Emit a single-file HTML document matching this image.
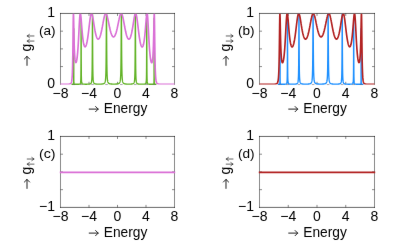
<!DOCTYPE html>
<html><head><meta charset="utf-8"><title>chart</title><style>html,body{margin:0;padding:0;background:#fff;}svg{display:block;}</style></head><body>
<svg width="400" height="247" viewBox="0 0 400 247" font-family="Liberation Sans, sans-serif" font-size="14" fill="#000">
<rect width="400" height="247" fill="#fff"/>
<filter id="bl" x="0" y="0" width="400" height="247" filterUnits="userSpaceOnUse" color-interpolation-filters="sRGB"><feConvolveMatrix order="3" kernelMatrix="0.00163 0.03713 0.00163 0.03713 0.84497 0.03713 0.00163 0.03713 0.00163" edgeMode="duplicate" preserveAlpha="false"/></filter>
<g filter="url(#bl)">
<path d="M60.5,84.3 V13.45 M174.5,13.45 V84.3" fill="none" stroke="#000" stroke-width="0.46" stroke-linecap="square"/>
<path d="M60.5,13.45 H174.5" fill="none" stroke="#000" stroke-width="0.6" stroke-linecap="square"/>
<path d="M89.00,84.3 v-2.5 M89.00,13.45 v2.5 M117.50,84.3 v-2.5 M117.50,13.45 v2.5 M146.00,84.3 v-2.5 M146.00,13.45 v2.5 M60.5,66.59 h2.5 M174.5,66.59 h-2.5 M60.5,48.88 h2.5 M174.5,48.88 h-2.5 M60.5,31.16 h2.5 M174.5,31.16 h-2.5" stroke="#000" stroke-width="0.46" fill="none"/>
<clipPath id="cpa0"><rect x="59.3" y="13.80" width="116.4" height="71.20"/></clipPath>
<path d="M71.47,84.30 L71.54,84.30 L71.62,84.30 L71.69,84.30 L71.76,84.30 L71.83,84.30 L71.90,84.30 L71.97,84.30 L72.04,84.30 L72.11,84.30 L72.19,84.30 L72.26,84.29 L72.33,84.29 L72.40,84.29 L72.47,84.29 L72.54,84.29 L72.61,84.29 L72.68,84.29 L72.75,84.28 L72.83,84.28 L72.90,84.28 L72.97,84.27 L73.04,84.26 L73.11,84.25 L73.18,84.23 L73.25,84.21 L73.33,84.17 L73.40,84.10 L73.47,83.97 L73.54,83.67 L73.61,82.75 L73.68,77.23 L73.75,28.62 L73.82,79.91 L73.89,82.93 L73.97,83.62 L74.04,83.89 L74.11,84.02 L74.18,84.09 L74.25,84.14 L74.32,84.17 L74.39,84.19 L74.47,84.21 L74.54,84.22 L74.61,84.23 L74.68,84.24 L74.75,84.24 L74.82,84.25 L74.89,84.25 L74.96,84.26 L75.03,84.26 L75.11,84.26 L75.18,84.26 L75.25,84.26 L75.32,84.27 L75.39,84.27 L75.46,84.27 L75.53,84.27 L75.61,84.27 L75.68,84.27 L75.75,84.27 L75.82,84.27 L75.89,84.27 L75.96,84.27 L76.03,84.27 L76.10,84.27 L76.17,84.27 L76.25,84.27 L76.32,84.27 L76.39,84.27 L76.46,84.27 L76.53,84.27 L76.60,84.27 L76.67,84.27 L76.75,84.27 L76.82,84.27 L76.89,84.27 L76.96,84.27 L77.03,84.27 L77.10,84.27 L77.17,84.27 L77.24,84.27 L77.31,84.27 L77.39,84.27 L77.46,84.27 L77.53,84.26 L77.60,84.26 L77.67,84.26 L77.74,84.26 L77.81,84.26 L77.88,84.26 L77.96,84.26 L78.03,84.25 L78.10,84.25 L78.17,84.25 L78.24,84.25 L78.31,84.25 L78.38,84.24 L78.45,84.24 L78.53,84.24 L78.60,84.23 L78.67,84.23 L78.74,84.22 L78.81,84.22 L78.88,84.21 L78.95,84.21 L79.03,84.20 L79.10,84.20 L79.17,84.19 L79.24,84.18 L79.31,84.17 L79.38,84.16 L79.45,84.14 L79.52,84.13 L79.59,84.11 L79.67,84.09 L79.74,84.07 L79.81,84.04 L79.88,84.01 L79.95,83.97 L80.02,83.92 L80.09,83.87 L80.16,83.79 L80.24,83.71 L80.31,83.59 L80.38,83.44 L80.45,83.25 L80.52,82.97 L80.59,82.58 L80.66,82.00 L80.73,81.08 L80.81,79.51 L80.88,76.56 L80.95,70.18 L81.02,54.16 L81.09,20.38 L81.16,27.34 L81.23,58.14 L81.31,71.31 L81.38,76.78 L81.45,79.44 L81.52,80.90 L81.59,81.79 L81.66,82.36 L81.73,82.76 L81.80,83.04 L81.88,83.25 L81.95,83.41 L82.02,83.53 L82.09,83.63 L82.16,83.71 L82.23,83.77 L82.30,83.82 L82.37,83.87 L82.44,83.91 L82.52,83.94 L82.59,83.97 L82.66,83.99 L82.73,84.02 L82.80,84.03 L82.87,84.05 L82.94,84.07 L83.02,84.08 L83.09,84.09 L83.16,84.10 L83.23,84.11 L83.30,84.12 L83.37,84.13 L83.44,84.13 L83.51,84.14 L83.59,84.15 L83.66,84.15 L83.73,84.16 L83.80,84.16 L83.87,84.17 L83.94,84.17 L84.01,84.17 L84.08,84.18 L84.16,84.18 L84.23,84.18 L84.30,84.18 L84.37,84.19 L84.44,84.19 L84.51,84.19 L84.58,84.19 L84.65,84.19 L84.72,84.20 L84.80,84.20 L84.87,84.20 L84.94,84.20 L85.01,84.20 L85.08,84.20 L85.15,84.20 L85.22,84.20 L85.30,84.20 L85.37,84.21 L85.44,84.21 L85.51,84.21 L85.58,84.21 L85.65,84.21 L85.72,84.21 L85.79,84.21 L85.87,84.21 L85.94,84.21 L86.01,84.21 L86.08,84.21 L86.15,84.21 L86.22,84.21 L86.29,84.21 L86.36,84.21 L86.44,84.20 L86.51,84.20 L86.58,84.20 L86.65,84.20 L86.72,84.20 L86.79,84.20 L86.86,84.20 L86.93,84.20 L87.01,84.20 L87.08,84.20 L87.15,84.19 L87.22,84.19 L87.29,84.19 L87.36,84.19 L87.43,84.19 L87.50,84.19 L87.58,84.18 L87.65,84.18 L87.72,84.18 L87.79,84.18 L87.86,84.18 L87.93,84.17 L88.00,84.17 L88.07,84.17 L88.14,84.16 L88.22,84.16 L88.29,84.16 L88.36,84.15 L88.43,84.15 L88.50,84.14 L88.57,84.14 L88.64,84.14 L88.72,84.13 L88.79,84.12 L88.86,84.12 L88.93,84.11 L89.00,84.11 L89.07,84.10 L89.14,84.09 L89.21,84.08 L89.28,84.07 L89.36,84.06 L89.43,84.05 L89.50,84.04 L89.57,84.03 L89.64,84.02 L89.71,84.01 L89.78,83.99 L89.86,83.98 L89.93,83.96 L90.00,83.94 L90.07,83.92 L90.14,83.90 L90.21,83.87 L90.28,83.84 L90.35,83.81 L90.42,83.78 L90.50,83.74 L90.57,83.70 L90.64,83.65 L90.71,83.60 L90.78,83.54 L90.85,83.47 L90.92,83.40 L91.00,83.31 L91.07,83.21 L91.14,83.09 L91.21,82.95 L91.28,82.78 L91.35,82.59 L91.42,82.35 L91.49,82.06 L91.56,81.71 L91.64,81.26 L91.71,80.69 L91.78,79.96 L91.85,78.98 L91.92,77.64 L91.99,75.76 L92.06,73.04 L92.14,68.93 L92.21,62.52 L92.28,52.35 L92.35,37.07 L92.42,19.76 L92.49,13.90 L92.56,26.31 L92.63,43.57 L92.71,56.57 L92.78,64.96 L92.85,70.30 L92.92,73.78 L92.99,76.15 L93.06,77.81 L93.13,79.01 L93.20,79.91 L93.28,80.60 L93.35,81.14 L93.42,81.56 L93.49,81.90 L93.56,82.19 L93.63,82.42 L93.70,82.61 L93.77,82.78 L93.84,82.92 L93.92,83.04 L93.99,83.15 L94.06,83.24 L94.13,83.32 L94.20,83.39 L94.27,83.45 L94.34,83.51 L94.41,83.56 L94.49,83.60 L94.56,83.64 L94.63,83.68 L94.70,83.71 L94.77,83.74 L94.84,83.77 L94.91,83.79 L94.98,83.82 L95.06,83.84 L95.13,83.86 L95.20,83.88 L95.27,83.89 L95.34,83.91 L95.41,83.92 L95.48,83.94 L95.56,83.95 L95.63,83.96 L95.70,83.97 L95.77,83.98 L95.84,83.99 L95.91,84.00 L95.98,84.01 L96.05,84.01 L96.12,84.02 L96.20,84.03 L96.27,84.04 L96.34,84.04 L96.41,84.05 L96.48,84.05 L96.55,84.06 L96.62,84.06 L96.69,84.07 L96.77,84.07 L96.84,84.07 L96.91,84.08 L96.98,84.08 L97.05,84.09 L97.12,84.09 L97.19,84.09 L97.27,84.09 L97.34,84.10 L97.41,84.10 L97.48,84.10 L97.55,84.10 L97.62,84.11 L97.69,84.11 L97.76,84.11 L97.84,84.11 L97.91,84.11 L97.98,84.11 L98.05,84.12 L98.12,84.12 L98.19,84.12 L98.26,84.12 L98.33,84.12 L98.41,84.12 L98.48,84.12 L98.55,84.12 L98.62,84.12 L98.69,84.12 L98.76,84.12 L98.83,84.12 L98.90,84.12 L98.97,84.12 L99.05,84.12 L99.12,84.12 L99.19,84.12 L99.26,84.12 L99.33,84.12 L99.40,84.12 L99.47,84.12 L99.55,84.12 L99.62,84.12 L99.69,84.12 L99.76,84.12 L99.83,84.12 L99.90,84.11 L99.97,84.11 L100.04,84.11 L100.12,84.11 L100.19,84.11 L100.26,84.11 L100.33,84.11 L100.40,84.10 L100.47,84.10 L100.54,84.10 L100.61,84.10 L100.69,84.09 L100.76,84.09 L100.83,84.09 L100.90,84.09 L100.97,84.08 L101.04,84.08 L101.11,84.08 L101.18,84.07 L101.25,84.07 L101.33,84.07 L101.40,84.06 L101.47,84.06 L101.54,84.05 L101.61,84.05 L101.68,84.04 L101.75,84.04 L101.82,84.03 L101.90,84.03 L101.97,84.02 L102.04,84.01 L102.11,84.01 L102.18,84.00 L102.25,83.99 L102.32,83.98 L102.39,83.97 L102.47,83.96 L102.54,83.95 L102.61,83.94 L102.68,83.93 L102.75,83.92 L102.82,83.91 L102.89,83.90 L102.97,83.88 L103.04,83.87 L103.11,83.85 L103.18,83.83 L103.25,83.82 L103.32,83.80 L103.39,83.78 L103.46,83.75 L103.53,83.73 L103.61,83.70 L103.68,83.68 L103.75,83.65 L103.82,83.61 L103.89,83.58 L103.96,83.54 L104.03,83.50 L104.11,83.45 L104.18,83.40 L104.25,83.35 L104.32,83.29 L104.39,83.22 L104.46,83.15 L104.53,83.07 L104.60,82.98 L104.68,82.87 L104.75,82.76 L104.82,82.63 L104.89,82.48 L104.96,82.32 L105.03,82.12 L105.10,81.90 L105.17,81.64 L105.25,81.34 L105.32,80.98 L105.39,80.56 L105.46,80.04 L105.53,79.42 L105.60,78.65 L105.67,77.69 L105.74,76.47 L105.81,74.91 L105.89,72.85 L105.96,70.09 L106.03,66.34 L106.10,61.15 L106.17,53.95 L106.24,44.16 L106.31,31.96 L106.39,19.83 L106.46,13.54 L106.53,17.44 L106.60,28.67 L106.67,41.15 L106.74,51.57 L106.81,59.35 L106.88,64.97 L106.96,69.04 L107.03,72.02 L107.10,74.24 L107.17,75.92 L107.24,77.23 L107.31,78.26 L107.38,79.08 L107.45,79.74 L107.53,80.29 L107.60,80.74 L107.67,81.12 L107.74,81.44 L107.81,81.72 L107.88,81.95 L107.95,82.16 L108.02,82.33 L108.09,82.49 L108.17,82.63 L108.24,82.75 L108.31,82.86 L108.38,82.95 L108.45,83.04 L108.52,83.12 L108.59,83.19 L108.66,83.25 L108.74,83.31 L108.81,83.36 L108.88,83.41 L108.95,83.46 L109.02,83.50 L109.09,83.54 L109.16,83.57 L109.23,83.60 L109.31,83.63 L109.38,83.66 L109.45,83.68 L109.52,83.71 L109.59,83.73 L109.66,83.75 L109.73,83.77 L109.81,83.79 L109.88,83.81 L109.95,83.82 L110.02,83.84 L110.09,83.85 L110.16,83.86 L110.23,83.88 L110.30,83.89 L110.38,83.90 L110.45,83.91 L110.52,83.92 L110.59,83.93 L110.66,83.94 L110.73,83.95 L110.80,83.95 L110.87,83.96 L110.94,83.97 L111.02,83.98 L111.09,83.98 L111.16,83.99 L111.23,83.99 L111.30,84.00 L111.37,84.00 L111.44,84.01 L111.52,84.01 L111.59,84.02 L111.66,84.02 L111.73,84.03 L111.80,84.03 L111.87,84.03 L111.94,84.04 L112.01,84.04 L112.09,84.04 L112.16,84.05 L112.23,84.05 L112.30,84.05 L112.37,84.05 L112.44,84.06 L112.51,84.06 L112.58,84.06 L112.66,84.06 L112.73,84.06 L112.80,84.07 L112.87,84.07 L112.94,84.07 L113.01,84.07 L113.08,84.07 L113.15,84.07 L113.22,84.07 L113.30,84.08 L113.37,84.08 L113.44,84.08 L113.51,84.08 L113.58,84.08 L113.65,84.08 L113.72,84.08 L113.80,84.08 L113.87,84.08 L113.94,84.08 L114.01,84.08 L114.08,84.08 L114.15,84.08 L114.22,84.08 L114.29,84.08 L114.37,84.08 L114.44,84.08 L114.51,84.07 L114.58,84.07 L114.65,84.07 L114.72,84.07 L114.79,84.07 L114.86,84.07 L114.94,84.07 L115.01,84.07 L115.08,84.06 L115.15,84.06 L115.22,84.06 L115.29,84.06 L115.36,84.06 L115.43,84.05 L115.50,84.05 L115.58,84.05 L115.65,84.05 L115.72,84.04 L115.79,84.04 L115.86,84.04 L115.93,84.03 L116.00,84.03 L116.07,84.03 L116.15,84.02 L116.22,84.02 L116.29,84.01 L116.36,84.01 L116.43,84.00 L116.50,84.00 L116.57,83.99 L116.64,83.99 L116.72,83.98 L116.79,83.98 L116.86,83.97 L116.93,83.96 L117.00,83.95 L117.07,83.95 L117.14,83.94 L117.22,83.93 L117.29,83.92 L117.36,83.91 L117.43,83.90 L117.50,83.89 L117.57,83.88 L117.64,83.86 L117.71,83.85 L117.78,83.84 L117.86,83.82 L117.93,83.81 L118.00,83.79 L118.07,83.77 L118.14,83.75 L118.21,83.73 L118.28,83.71 L118.36,83.69 L118.43,83.66 L118.50,83.63 L118.57,83.60 L118.64,83.57 L118.71,83.54 L118.78,83.50 L118.85,83.46 L118.92,83.42 L119.00,83.37 L119.07,83.32 L119.14,83.26 L119.21,83.20 L119.28,83.13 L119.35,83.06 L119.42,82.97 L119.50,82.88 L119.57,82.77 L119.64,82.66 L119.71,82.53 L119.78,82.38 L119.85,82.21 L119.92,82.01 L119.99,81.79 L120.06,81.53 L120.14,81.23 L120.21,80.87 L120.28,80.45 L120.35,79.94 L120.42,79.33 L120.49,78.58 L120.56,77.65 L120.63,76.48 L120.71,74.98 L120.78,73.03 L120.85,70.44 L120.92,66.95 L120.99,62.18 L121.06,55.58 L121.13,46.60 L121.20,35.13 L121.28,22.79 L121.35,14.37 L121.42,15.22 L121.49,24.74 L121.56,37.23 L121.63,48.38 L121.70,56.97 L121.78,63.24 L121.85,67.78 L121.92,71.09 L121.99,73.55 L122.06,75.40 L122.13,76.84 L122.20,77.95 L122.27,78.85 L122.34,79.56 L122.42,80.15 L122.49,80.64 L122.56,81.04 L122.63,81.38 L122.70,81.67 L122.77,81.92 L122.84,82.14 L122.91,82.32 L122.99,82.49 L123.06,82.63 L123.13,82.76 L123.20,82.87 L123.27,82.97 L123.34,83.06 L123.41,83.14 L123.48,83.21 L123.56,83.28 L123.63,83.34 L123.70,83.39 L123.77,83.44 L123.84,83.48 L123.91,83.53 L123.98,83.56 L124.06,83.60 L124.13,83.63 L124.20,83.66 L124.27,83.69 L124.34,83.72 L124.41,83.74 L124.48,83.76 L124.55,83.78 L124.62,83.80 L124.70,83.82 L124.77,83.84 L124.84,83.85 L124.91,83.87 L124.98,83.88 L125.05,83.90 L125.12,83.91 L125.20,83.92 L125.27,83.93 L125.34,83.94 L125.41,83.95 L125.48,83.96 L125.55,83.97 L125.62,83.98 L125.69,83.99 L125.77,83.99 L125.84,84.00 L125.91,84.01 L125.98,84.01 L126.05,84.02 L126.12,84.02 L126.19,84.03 L126.26,84.04 L126.34,84.04 L126.41,84.05 L126.48,84.05 L126.55,84.05 L126.62,84.06 L126.69,84.06 L126.76,84.07 L126.83,84.07 L126.91,84.07 L126.98,84.07 L127.05,84.08 L127.12,84.08 L127.19,84.08 L127.26,84.09 L127.33,84.09 L127.40,84.09 L127.48,84.09 L127.55,84.09 L127.62,84.10 L127.69,84.10 L127.76,84.10 L127.83,84.10 L127.90,84.10 L127.97,84.10 L128.05,84.10 L128.12,84.11 L128.19,84.11 L128.26,84.11 L128.33,84.11 L128.40,84.11 L128.47,84.11 L128.54,84.11 L128.62,84.11 L128.69,84.11 L128.76,84.11 L128.83,84.11 L128.90,84.11 L128.97,84.11 L129.04,84.11 L129.11,84.11 L129.19,84.11 L129.26,84.11 L129.33,84.11 L129.40,84.11 L129.47,84.11 L129.54,84.11 L129.61,84.10 L129.68,84.10 L129.75,84.10 L129.83,84.10 L129.90,84.10 L129.97,84.10 L130.04,84.10 L130.11,84.09 L130.18,84.09 L130.25,84.09 L130.32,84.09 L130.40,84.09 L130.47,84.08 L130.54,84.08 L130.61,84.08 L130.68,84.07 L130.75,84.07 L130.82,84.07 L130.90,84.06 L130.97,84.06 L131.04,84.06 L131.11,84.05 L131.18,84.05 L131.25,84.04 L131.32,84.04 L131.39,84.03 L131.47,84.02 L131.54,84.02 L131.61,84.01 L131.68,84.00 L131.75,84.00 L131.82,83.99 L131.89,83.98 L131.96,83.97 L132.04,83.96 L132.11,83.95 L132.18,83.94 L132.25,83.92 L132.32,83.91 L132.39,83.90 L132.46,83.88 L132.53,83.87 L132.61,83.85 L132.68,83.83 L132.75,83.81 L132.82,83.79 L132.89,83.76 L132.96,83.74 L133.03,83.71 L133.10,83.68 L133.18,83.64 L133.25,83.60 L133.32,83.56 L133.39,83.52 L133.46,83.47 L133.53,83.41 L133.60,83.34 L133.67,83.27 L133.75,83.19 L133.82,83.10 L133.89,82.99 L133.96,82.87 L134.03,82.73 L134.10,82.56 L134.17,82.37 L134.24,82.14 L134.31,81.87 L134.39,81.54 L134.46,81.13 L134.53,80.62 L134.60,79.98 L134.67,79.16 L134.74,78.07 L134.81,76.60 L134.88,74.57 L134.96,71.66 L135.03,67.35 L135.10,60.78 L135.17,50.68 L135.24,36.04 L135.31,19.82 L135.38,13.68 L135.45,24.52 L135.53,41.29 L135.60,54.70 L135.67,63.62 L135.74,69.37 L135.81,73.15 L135.88,75.72 L135.95,77.53 L136.02,78.83 L136.10,79.80 L136.17,80.54 L136.24,81.11 L136.31,81.56 L136.38,81.93 L136.45,82.22 L136.52,82.47 L136.59,82.67 L136.67,82.84 L136.74,82.99 L136.81,83.12 L136.88,83.22 L136.95,83.32 L137.02,83.40 L137.09,83.47 L137.16,83.53 L137.24,83.59 L137.31,83.64 L137.38,83.69 L137.45,83.73 L137.52,83.76 L137.59,83.80 L137.66,83.83 L137.74,83.85 L137.81,83.88 L137.88,83.90 L137.95,83.92 L138.02,83.94 L138.09,83.96 L138.16,83.97 L138.23,83.99 L138.31,84.00 L138.38,84.01 L138.45,84.03 L138.52,84.04 L138.59,84.05 L138.66,84.06 L138.73,84.07 L138.80,84.07 L138.88,84.08 L138.95,84.09 L139.02,84.10 L139.09,84.10 L139.16,84.11 L139.23,84.11 L139.30,84.12 L139.37,84.12 L139.44,84.13 L139.52,84.13 L139.59,84.14 L139.66,84.14 L139.73,84.14 L139.80,84.15 L139.87,84.15 L139.94,84.15 L140.01,84.16 L140.09,84.16 L140.16,84.16 L140.23,84.17 L140.30,84.17 L140.37,84.17 L140.44,84.17 L140.51,84.17 L140.59,84.18 L140.66,84.18 L140.73,84.18 L140.80,84.18 L140.87,84.18 L140.94,84.18 L141.01,84.18 L141.08,84.19 L141.16,84.19 L141.23,84.19 L141.30,84.19 L141.37,84.19 L141.44,84.19 L141.51,84.19 L141.58,84.19 L141.65,84.19 L141.73,84.19 L141.80,84.19 L141.87,84.19 L141.94,84.19 L142.01,84.19 L142.08,84.19 L142.15,84.19 L142.22,84.19 L142.30,84.19 L142.37,84.19 L142.44,84.19 L142.51,84.19 L142.58,84.19 L142.65,84.19 L142.72,84.19 L142.79,84.18 L142.87,84.18 L142.94,84.18 L143.01,84.18 L143.08,84.18 L143.15,84.18 L143.22,84.17 L143.29,84.17 L143.36,84.17 L143.44,84.17 L143.51,84.17 L143.58,84.16 L143.65,84.16 L143.72,84.16 L143.79,84.15 L143.86,84.15 L143.93,84.14 L144.00,84.14 L144.08,84.13 L144.15,84.13 L144.22,84.12 L144.29,84.11 L144.36,84.11 L144.43,84.10 L144.50,84.09 L144.57,84.08 L144.65,84.07 L144.72,84.06 L144.79,84.04 L144.86,84.03 L144.93,84.01 L145.00,84.00 L145.07,83.97 L145.15,83.95 L145.22,83.92 L145.29,83.89 L145.36,83.86 L145.43,83.82 L145.50,83.77 L145.57,83.71 L145.64,83.64 L145.72,83.56 L145.79,83.46 L145.86,83.33 L145.93,83.18 L146.00,82.97 L146.07,82.70 L146.14,82.34 L146.21,81.82 L146.29,81.06 L146.36,79.89 L146.43,77.93 L146.50,74.35 L146.57,66.95 L146.64,49.93 L146.71,19.16 L146.78,25.23 L146.86,55.18 L146.93,69.61 L147.00,75.87 L147.07,78.93 L147.14,80.62 L147.21,81.64 L147.28,82.29 L147.35,82.73 L147.43,83.05 L147.50,83.28 L147.57,83.45 L147.64,83.58 L147.71,83.69 L147.78,83.77 L147.85,83.84 L147.92,83.90 L148.00,83.94 L148.07,83.98 L148.14,84.01 L148.21,84.04 L148.28,84.07 L148.35,84.09 L148.42,84.11 L148.49,84.12 L148.56,84.14 L148.64,84.15 L148.71,84.16 L148.78,84.17 L148.85,84.18 L148.92,84.19 L148.99,84.19 L149.06,84.20 L149.13,84.20 L149.21,84.21 L149.28,84.21 L149.35,84.22 L149.42,84.22 L149.49,84.23 L149.56,84.23 L149.63,84.23 L149.70,84.24 L149.78,84.24 L149.85,84.24 L149.92,84.24 L149.99,84.25 L150.06,84.25 L150.13,84.25 L150.20,84.25 L150.27,84.25 L150.35,84.25 L150.42,84.25 L150.49,84.26 L150.56,84.26 L150.63,84.26 L150.70,84.26 L150.77,84.26 L150.84,84.26 L150.92,84.26 L150.99,84.26 L151.06,84.26 L151.13,84.26 L151.20,84.26 L151.27,84.26 L151.34,84.26 L151.41,84.26 L151.49,84.26 L151.56,84.26 L151.63,84.26 L151.70,84.26 L151.77,84.26 L151.84,84.26 L151.91,84.26 L151.99,84.26 L152.06,84.26 L152.13,84.26 L152.20,84.26 L152.27,84.26 L152.34,84.26 L152.41,84.26 L152.48,84.25 L152.56,84.25 L152.63,84.25 L152.70,84.25 L152.77,84.25 L152.84,84.24 L152.91,84.24 L152.98,84.23 L153.05,84.23 L153.12,84.22 L153.20,84.21 L153.27,84.20 L153.34,84.19 L153.41,84.17 L153.48,84.15 L153.55,84.12 L153.62,84.07 L153.69,84.01 L153.77,83.90 L153.84,83.71 L153.91,83.32 L153.98,82.28 L154.05,77.67 L154.12,18.26 L154.19,75.74 L154.26,82.25 L154.34,83.44 L154.41,83.84 L154.48,84.02 L154.55,84.11 L154.62,84.17 L154.69,84.20 L154.76,84.23 L154.84,84.24 L154.91,84.26 L154.98,84.26 L155.05,84.27 L155.12,84.28 L155.19,84.28 L155.26,84.28 L155.33,84.29 L155.41,84.29 L155.48,84.29 L155.55,84.29 L155.62,84.29 L155.69,84.29 L155.76,84.29 L155.83,84.29 L155.90,84.30 L155.98,84.30 L156.05,84.30 L156.12,84.30 L156.19,84.30 L156.26,84.30 L156.33,84.30 L156.40,84.30" fill="none" stroke="#62B327" stroke-width="1.35" stroke-linejoin="round" stroke-linecap="butt" clip-path="url(#cpa0)"/>
<clipPath id="cpa1"><rect x="59.3" y="13.80" width="116.4" height="70.80"/></clipPath>
<path d="M60.50,84.30 L60.57,84.30 L60.64,84.30 L60.71,84.30 L60.79,84.30 L60.86,84.30 L60.93,84.30 L61.00,84.30 L61.07,84.30 L61.14,84.30 L61.21,84.30 L61.28,84.30 L61.36,84.30 L61.43,84.30 L61.50,84.30 L61.57,84.30 L61.64,84.30 L61.71,84.30 L61.78,84.30 L61.85,84.30 L61.93,84.30 L62.00,84.30 L62.07,84.30 L62.14,84.30 L62.21,84.30 L62.28,84.30 L62.35,84.30 L62.42,84.30 L62.50,84.30 L62.57,84.30 L62.64,84.30 L62.71,84.30 L62.78,84.30 L62.85,84.30 L62.92,84.30 L62.99,84.30 L63.07,84.30 L63.14,84.30 L63.21,84.30 L63.28,84.30 L63.35,84.30 L63.42,84.30 L63.49,84.30 L63.56,84.30 L63.64,84.30 L63.71,84.30 L63.78,84.30 L63.85,84.30 L63.92,84.30 L63.99,84.30 L64.06,84.30 L64.13,84.30 L64.20,84.30 L64.28,84.30 L64.35,84.30 L64.42,84.30 L64.49,84.30 L64.56,84.30 L64.63,84.30 L64.70,84.30 L64.77,84.30 L64.85,84.30 L64.92,84.30 L64.99,84.30 L65.06,84.30 L65.13,84.30 L65.20,84.30 L65.27,84.30 L65.34,84.30 L65.42,84.29 L65.49,84.29 L65.56,84.29 L65.63,84.29 L65.70,84.29 L65.77,84.29 L65.84,84.29 L65.91,84.29 L65.99,84.29 L66.06,84.29 L66.13,84.29 L66.20,84.29 L66.27,84.29 L66.34,84.29 L66.41,84.29 L66.48,84.29 L66.56,84.29 L66.63,84.29 L66.70,84.29 L66.77,84.28 L66.84,84.28 L66.91,84.28 L66.98,84.28 L67.06,84.28 L67.13,84.28 L67.20,84.28 L67.27,84.28 L67.34,84.27 L67.41,84.27 L67.48,84.27 L67.55,84.27 L67.62,84.27 L67.70,84.27 L67.77,84.26 L67.84,84.26 L67.91,84.26 L67.98,84.26 L68.05,84.25 L68.12,84.25 L68.19,84.25 L68.27,84.24 L68.34,84.24 L68.41,84.23 L68.48,84.23 L68.55,84.22 L68.62,84.22 L68.69,84.21 L68.77,84.21 L68.84,84.20 L68.91,84.19 L68.98,84.19 L69.05,84.18 L69.12,84.17 L69.19,84.16 L69.26,84.15 L69.34,84.14 L69.41,84.12 L69.48,84.11 L69.55,84.10 L69.62,84.08 L69.69,84.06 L69.76,84.04 L69.83,84.02 L69.91,84.00 L69.98,83.97 L70.05,83.95 L70.12,83.92 L70.19,83.88 L70.26,83.85 L70.33,83.81 L70.40,83.76 L70.48,83.72 L70.55,83.66 L70.62,83.60 L70.69,83.54 L70.76,83.46 L70.83,83.38 L70.90,83.29 L70.97,83.19 L71.05,83.07 L71.12,82.94 L71.19,82.80 L71.26,82.64 L71.33,82.45 L71.40,82.24 L71.47,82.01 L71.54,81.73 L71.62,81.43 L71.69,81.07 L71.76,80.66 L71.83,80.19 L71.90,79.65 L71.97,79.01 L72.04,78.28 L72.11,77.41 L72.19,76.40 L72.26,75.21 L72.33,73.80 L72.40,72.13 L72.47,70.15 L72.54,67.81 L72.61,65.03 L72.68,61.74 L72.75,57.89 L72.83,53.41 L72.90,48.31 L72.97,42.64 L73.04,36.57 L73.11,30.40 L73.18,24.56 L73.25,19.56 L73.33,15.89 L73.40,13.85 L73.47,13.53 L73.54,14.74 L73.61,17.14 L73.68,20.34 L73.75,23.96 L73.82,27.71 L73.89,31.39 L73.97,34.88 L74.04,38.11 L74.11,41.04 L74.18,43.69 L74.25,46.06 L74.32,48.17 L74.39,50.05 L74.47,51.71 L74.54,53.19 L74.61,54.50 L74.68,55.66 L74.75,56.68 L74.82,57.59 L74.89,58.39 L74.96,59.09 L75.03,59.71 L75.11,60.26 L75.18,60.73 L75.25,61.13 L75.32,61.48 L75.39,61.78 L75.46,62.02 L75.53,62.22 L75.61,62.38 L75.68,62.49 L75.75,62.57 L75.82,62.61 L75.89,62.61 L75.96,62.58 L76.03,62.51 L76.10,62.42 L76.17,62.29 L76.25,62.13 L76.32,61.95 L76.39,61.73 L76.46,61.48 L76.53,61.20 L76.60,60.89 L76.67,60.55 L76.75,60.18 L76.82,59.78 L76.89,59.35 L76.96,58.88 L77.03,58.38 L77.10,57.85 L77.17,57.29 L77.24,56.69 L77.31,56.05 L77.39,55.38 L77.46,54.67 L77.53,53.92 L77.60,53.13 L77.67,52.30 L77.74,51.44 L77.81,50.53 L77.88,49.58 L77.96,48.59 L78.03,47.56 L78.10,46.49 L78.17,45.37 L78.24,44.22 L78.31,43.03 L78.38,41.80 L78.45,40.53 L78.53,39.23 L78.60,37.90 L78.67,36.55 L78.74,35.17 L78.81,33.78 L78.88,32.37 L78.95,30.96 L79.03,29.55 L79.10,28.14 L79.17,26.75 L79.24,25.39 L79.31,24.06 L79.38,22.77 L79.45,21.53 L79.52,20.36 L79.59,19.25 L79.67,18.22 L79.74,17.28 L79.81,16.43 L79.88,15.68 L79.95,15.03 L80.02,14.49 L80.09,14.06 L80.16,13.75 L80.24,13.55 L80.31,13.46 L80.38,13.47 L80.45,13.60 L80.52,13.82 L80.59,14.14 L80.66,14.55 L80.73,15.04 L80.81,15.61 L80.88,16.24 L80.95,16.94 L81.02,17.68 L81.09,18.47 L81.16,19.30 L81.23,20.16 L81.31,21.04 L81.38,21.94 L81.45,22.86 L81.52,23.78 L81.59,24.70 L81.66,25.62 L81.73,26.53 L81.80,27.44 L81.88,28.33 L81.95,29.21 L82.02,30.08 L82.09,30.92 L82.16,31.75 L82.23,32.55 L82.30,33.33 L82.37,34.09 L82.44,34.83 L82.52,35.54 L82.59,36.22 L82.66,36.89 L82.73,37.52 L82.80,38.14 L82.87,38.72 L82.94,39.29 L83.02,39.83 L83.09,40.35 L83.16,40.84 L83.23,41.31 L83.30,41.76 L83.37,42.19 L83.44,42.59 L83.51,42.98 L83.59,43.34 L83.66,43.68 L83.73,44.00 L83.80,44.31 L83.87,44.59 L83.94,44.86 L84.01,45.10 L84.08,45.33 L84.16,45.54 L84.23,45.74 L84.30,45.91 L84.37,46.07 L84.44,46.22 L84.51,46.35 L84.58,46.46 L84.65,46.56 L84.72,46.64 L84.80,46.70 L84.87,46.75 L84.94,46.79 L85.01,46.81 L85.08,46.82 L85.15,46.82 L85.22,46.80 L85.30,46.76 L85.37,46.71 L85.44,46.65 L85.51,46.58 L85.58,46.49 L85.65,46.39 L85.72,46.27 L85.79,46.15 L85.87,46.01 L85.94,45.85 L86.01,45.69 L86.08,45.51 L86.15,45.31 L86.22,45.11 L86.29,44.89 L86.36,44.66 L86.44,44.41 L86.51,44.16 L86.58,43.89 L86.65,43.60 L86.72,43.31 L86.79,43.00 L86.86,42.68 L86.93,42.35 L87.01,42.00 L87.08,41.64 L87.15,41.27 L87.22,40.89 L87.29,40.49 L87.36,40.09 L87.43,39.67 L87.50,39.24 L87.58,38.79 L87.65,38.34 L87.72,37.87 L87.79,37.39 L87.86,36.90 L87.93,36.40 L88.00,35.89 L88.07,35.37 L88.14,34.84 L88.22,34.30 L88.29,33.75 L88.36,33.20 L88.43,32.63 L88.50,32.06 L88.57,31.48 L88.64,30.89 L88.72,30.30 L88.79,29.70 L88.86,29.10 L88.93,28.50 L89.00,27.89 L89.07,27.28 L89.14,26.67 L89.21,26.06 L89.28,25.45 L89.36,24.85 L89.43,24.25 L89.50,23.65 L89.57,23.06 L89.64,22.47 L89.71,21.89 L89.78,21.32 L89.86,20.77 L89.93,20.22 L90.00,19.69 L90.07,19.17 L90.14,18.67 L90.21,18.18 L90.28,17.71 L90.35,17.27 L90.42,16.84 L90.50,16.43 L90.57,16.05 L90.64,15.69 L90.71,15.35 L90.78,15.04 L90.85,14.76 L90.92,14.50 L91.00,14.27 L91.07,14.07 L91.14,13.89 L91.21,13.75 L91.28,13.63 L91.35,13.54 L91.42,13.49 L91.49,13.45 L91.56,13.45 L91.64,13.48 L91.71,13.53 L91.78,13.61 L91.85,13.72 L91.92,13.86 L91.99,14.02 L92.06,14.20 L92.14,14.41 L92.21,14.64 L92.28,14.89 L92.35,15.16 L92.42,15.46 L92.49,15.77 L92.56,16.10 L92.63,16.44 L92.71,16.80 L92.78,17.17 L92.85,17.56 L92.92,17.96 L92.99,18.37 L93.06,18.79 L93.13,19.22 L93.20,19.66 L93.28,20.10 L93.35,20.55 L93.42,21.00 L93.49,21.45 L93.56,21.91 L93.63,22.37 L93.70,22.84 L93.77,23.30 L93.84,23.76 L93.92,24.22 L93.99,24.68 L94.06,25.14 L94.13,25.59 L94.20,26.04 L94.27,26.49 L94.34,26.93 L94.41,27.36 L94.49,27.79 L94.56,28.22 L94.63,28.64 L94.70,29.05 L94.77,29.46 L94.84,29.86 L94.91,30.25 L94.98,30.63 L95.06,31.01 L95.13,31.38 L95.20,31.74 L95.27,32.09 L95.34,32.43 L95.41,32.77 L95.48,33.09 L95.56,33.41 L95.63,33.72 L95.70,34.02 L95.77,34.32 L95.84,34.60 L95.91,34.87 L95.98,35.14 L96.05,35.40 L96.12,35.64 L96.20,35.88 L96.27,36.11 L96.34,36.34 L96.41,36.55 L96.48,36.75 L96.55,36.95 L96.62,37.13 L96.69,37.31 L96.77,37.48 L96.84,37.64 L96.91,37.79 L96.98,37.94 L97.05,38.07 L97.12,38.20 L97.19,38.32 L97.27,38.43 L97.34,38.53 L97.41,38.62 L97.48,38.71 L97.55,38.78 L97.62,38.85 L97.69,38.91 L97.76,38.96 L97.84,39.01 L97.91,39.04 L97.98,39.07 L98.05,39.09 L98.12,39.10 L98.19,39.11 L98.26,39.10 L98.33,39.09 L98.41,39.07 L98.48,39.05 L98.55,39.01 L98.62,38.97 L98.69,38.92 L98.76,38.86 L98.83,38.79 L98.90,38.72 L98.97,38.64 L99.05,38.55 L99.12,38.45 L99.19,38.35 L99.26,38.24 L99.33,38.12 L99.40,37.99 L99.47,37.86 L99.55,37.71 L99.62,37.57 L99.69,37.41 L99.76,37.24 L99.83,37.07 L99.90,36.89 L99.97,36.71 L100.04,36.52 L100.12,36.32 L100.19,36.11 L100.26,35.89 L100.33,35.67 L100.40,35.44 L100.47,35.21 L100.54,34.96 L100.61,34.71 L100.69,34.46 L100.76,34.19 L100.83,33.92 L100.90,33.65 L100.97,33.36 L101.04,33.07 L101.11,32.78 L101.18,32.47 L101.25,32.17 L101.33,31.85 L101.40,31.53 L101.47,31.21 L101.54,30.87 L101.61,30.54 L101.68,30.20 L101.75,29.85 L101.82,29.50 L101.90,29.14 L101.97,28.78 L102.04,28.42 L102.11,28.05 L102.18,27.68 L102.25,27.30 L102.32,26.92 L102.39,26.54 L102.47,26.16 L102.54,25.77 L102.61,25.39 L102.68,25.00 L102.75,24.61 L102.82,24.22 L102.89,23.83 L102.97,23.44 L103.04,23.05 L103.11,22.66 L103.18,22.27 L103.25,21.88 L103.32,21.50 L103.39,21.12 L103.46,20.75 L103.53,20.37 L103.61,20.00 L103.68,19.64 L103.75,19.28 L103.82,18.93 L103.89,18.59 L103.96,18.25 L104.03,17.92 L104.11,17.60 L104.18,17.28 L104.25,16.98 L104.32,16.68 L104.39,16.40 L104.46,16.12 L104.53,15.86 L104.60,15.61 L104.68,15.37 L104.75,15.14 L104.82,14.93 L104.89,14.73 L104.96,14.54 L105.03,14.36 L105.10,14.21 L105.17,14.06 L105.25,13.93 L105.32,13.82 L105.39,13.72 L105.46,13.63 L105.53,13.57 L105.60,13.51 L105.67,13.48 L105.74,13.46 L105.81,13.45 L105.89,13.46 L105.96,13.49 L106.03,13.53 L106.10,13.59 L106.17,13.66 L106.24,13.75 L106.31,13.85 L106.39,13.96 L106.46,14.10 L106.53,14.24 L106.60,14.40 L106.67,14.57 L106.74,14.76 L106.81,14.95 L106.88,15.16 L106.96,15.38 L107.03,15.62 L107.10,15.86 L107.17,16.11 L107.24,16.38 L107.31,16.65 L107.38,16.93 L107.45,17.22 L107.53,17.52 L107.60,17.82 L107.67,18.13 L107.74,18.45 L107.81,18.77 L107.88,19.10 L107.95,19.43 L108.02,19.77 L108.09,20.11 L108.17,20.46 L108.24,20.80 L108.31,21.15 L108.38,21.50 L108.45,21.86 L108.52,22.21 L108.59,22.57 L108.66,22.92 L108.74,23.28 L108.81,23.63 L108.88,23.99 L108.95,24.34 L109.02,24.69 L109.09,25.04 L109.16,25.39 L109.23,25.73 L109.31,26.08 L109.38,26.42 L109.45,26.75 L109.52,27.09 L109.59,27.42 L109.66,27.74 L109.73,28.06 L109.81,28.38 L109.88,28.69 L109.95,29.00 L110.02,29.31 L110.09,29.61 L110.16,29.90 L110.23,30.19 L110.30,30.47 L110.38,30.75 L110.45,31.02 L110.52,31.29 L110.59,31.55 L110.66,31.81 L110.73,32.06 L110.80,32.30 L110.87,32.54 L110.94,32.77 L111.02,33.00 L111.09,33.22 L111.16,33.43 L111.23,33.64 L111.30,33.84 L111.37,34.04 L111.44,34.23 L111.52,34.41 L111.59,34.59 L111.66,34.76 L111.73,34.92 L111.80,35.08 L111.87,35.23 L111.94,35.37 L112.01,35.51 L112.09,35.64 L112.16,35.77 L112.23,35.88 L112.30,36.00 L112.37,36.10 L112.44,36.20 L112.51,36.29 L112.58,36.38 L112.66,36.46 L112.73,36.53 L112.80,36.60 L112.87,36.66 L112.94,36.72 L113.01,36.76 L113.08,36.80 L113.15,36.84 L113.22,36.87 L113.30,36.89 L113.37,36.90 L113.44,36.91 L113.51,36.91 L113.58,36.91 L113.65,36.90 L113.72,36.88 L113.80,36.86 L113.87,36.83 L113.94,36.79 L114.01,36.75 L114.08,36.70 L114.15,36.64 L114.22,36.58 L114.29,36.51 L114.37,36.44 L114.44,36.36 L114.51,36.27 L114.58,36.17 L114.65,36.07 L114.72,35.96 L114.79,35.85 L114.86,35.73 L114.94,35.60 L115.01,35.47 L115.08,35.33 L115.15,35.18 L115.22,35.03 L115.29,34.87 L115.36,34.71 L115.43,34.53 L115.50,34.36 L115.58,34.17 L115.65,33.98 L115.72,33.78 L115.79,33.58 L115.86,33.37 L115.93,33.16 L116.00,32.94 L116.07,32.71 L116.15,32.47 L116.22,32.23 L116.29,31.99 L116.36,31.74 L116.43,31.48 L116.50,31.22 L116.57,30.95 L116.64,30.67 L116.72,30.39 L116.79,30.11 L116.86,29.82 L116.93,29.52 L117.00,29.22 L117.07,28.92 L117.14,28.61 L117.22,28.30 L117.29,27.98 L117.36,27.66 L117.43,27.33 L117.50,27.00 L117.57,26.67 L117.64,26.33 L117.71,25.99 L117.78,25.65 L117.86,25.30 L117.93,24.95 L118.00,24.60 L118.07,24.25 L118.14,23.90 L118.21,23.55 L118.28,23.19 L118.36,22.84 L118.43,22.48 L118.50,22.13 L118.57,21.78 L118.64,21.42 L118.71,21.07 L118.78,20.73 L118.85,20.38 L118.92,20.04 L119.00,19.70 L119.07,19.36 L119.14,19.03 L119.21,18.70 L119.28,18.38 L119.35,18.07 L119.42,17.76 L119.50,17.45 L119.57,17.16 L119.64,16.87 L119.71,16.59 L119.78,16.32 L119.85,16.06 L119.92,15.81 L119.99,15.57 L120.06,15.34 L120.14,15.12 L120.21,14.92 L120.28,14.72 L120.35,14.54 L120.42,14.37 L120.49,14.22 L120.56,14.07 L120.63,13.94 L120.71,13.83 L120.78,13.73 L120.85,13.65 L120.92,13.58 L120.99,13.52 L121.06,13.48 L121.13,13.46 L121.20,13.45 L121.28,13.46 L121.35,13.48 L121.42,13.52 L121.49,13.57 L121.56,13.64 L121.63,13.73 L121.70,13.83 L121.78,13.95 L121.85,14.08 L121.92,14.22 L121.99,14.38 L122.06,14.56 L122.13,14.74 L122.20,14.95 L122.27,15.16 L122.34,15.39 L122.42,15.63 L122.49,15.88 L122.56,16.14 L122.63,16.42 L122.70,16.70 L122.77,17.00 L122.84,17.30 L122.91,17.61 L122.99,17.94 L123.06,18.27 L123.13,18.60 L123.20,18.95 L123.27,19.30 L123.34,19.65 L123.41,20.02 L123.48,20.38 L123.56,20.76 L123.63,21.13 L123.70,21.51 L123.77,21.89 L123.84,22.27 L123.91,22.66 L123.98,23.05 L124.06,23.44 L124.13,23.83 L124.20,24.21 L124.27,24.60 L124.34,24.99 L124.41,25.38 L124.48,25.77 L124.55,26.15 L124.62,26.53 L124.70,26.91 L124.77,27.29 L124.84,27.66 L124.91,28.03 L124.98,28.40 L125.05,28.76 L125.12,29.12 L125.20,29.48 L125.27,29.83 L125.34,30.18 L125.41,30.52 L125.48,30.85 L125.55,31.18 L125.62,31.51 L125.69,31.83 L125.77,32.14 L125.84,32.45 L125.91,32.75 L125.98,33.05 L126.05,33.34 L126.12,33.62 L126.19,33.90 L126.26,34.17 L126.34,34.43 L126.41,34.69 L126.48,34.94 L126.55,35.18 L126.62,35.42 L126.69,35.65 L126.76,35.87 L126.83,36.09 L126.91,36.30 L126.98,36.50 L127.05,36.69 L127.12,36.88 L127.19,37.06 L127.26,37.23 L127.33,37.40 L127.40,37.56 L127.48,37.71 L127.55,37.85 L127.62,37.99 L127.69,38.12 L127.76,38.24 L127.83,38.35 L127.90,38.46 L127.97,38.56 L128.05,38.65 L128.12,38.73 L128.19,38.81 L128.26,38.88 L128.33,38.94 L128.40,38.99 L128.47,39.04 L128.54,39.08 L128.62,39.11 L128.69,39.13 L128.76,39.15 L128.83,39.16 L128.90,39.16 L128.97,39.15 L129.04,39.13 L129.11,39.11 L129.19,39.08 L129.26,39.04 L129.33,38.99 L129.40,38.94 L129.47,38.88 L129.54,38.80 L129.61,38.73 L129.68,38.64 L129.75,38.54 L129.83,38.44 L129.90,38.33 L129.97,38.21 L130.04,38.08 L130.11,37.94 L130.18,37.80 L130.25,37.64 L130.32,37.48 L130.40,37.31 L130.47,37.13 L130.54,36.95 L130.61,36.75 L130.68,36.55 L130.75,36.33 L130.82,36.11 L130.90,35.88 L130.97,35.64 L131.04,35.39 L131.11,35.14 L131.18,34.87 L131.25,34.60 L131.32,34.31 L131.39,34.02 L131.47,33.72 L131.54,33.42 L131.61,33.10 L131.68,32.77 L131.75,32.44 L131.82,32.10 L131.89,31.75 L131.96,31.39 L132.04,31.03 L132.11,30.65 L132.18,30.27 L132.25,29.88 L132.32,29.49 L132.39,29.09 L132.46,28.68 L132.53,28.26 L132.61,27.84 L132.68,27.41 L132.75,26.98 L132.82,26.54 L132.89,26.10 L132.96,25.66 L133.03,25.21 L133.10,24.76 L133.18,24.30 L133.25,23.84 L133.32,23.39 L133.39,22.93 L133.46,22.47 L133.53,22.01 L133.60,21.56 L133.67,21.11 L133.75,20.66 L133.82,20.21 L133.89,19.77 L133.96,19.34 L134.03,18.91 L134.10,18.49 L134.17,18.09 L134.24,17.69 L134.31,17.30 L134.39,16.92 L134.46,16.56 L134.53,16.22 L134.60,15.88 L134.67,15.57 L134.74,15.27 L134.81,15.00 L134.88,14.74 L134.96,14.50 L135.03,14.29 L135.10,14.09 L135.17,13.93 L135.24,13.78 L135.31,13.66 L135.38,13.57 L135.45,13.50 L135.53,13.46 L135.60,13.45 L135.67,13.47 L135.74,13.51 L135.81,13.58 L135.88,13.68 L135.95,13.81 L136.02,13.96 L136.10,14.15 L136.17,14.36 L136.24,14.59 L136.31,14.86 L136.38,15.15 L136.45,15.46 L136.52,15.80 L136.59,16.17 L136.67,16.55 L136.74,16.96 L136.81,17.39 L136.88,17.84 L136.95,18.30 L137.02,18.79 L137.09,19.29 L137.16,19.80 L137.24,20.33 L137.31,20.87 L137.38,21.42 L137.45,21.99 L137.52,22.56 L137.59,23.14 L137.66,23.72 L137.74,24.31 L137.81,24.91 L137.88,25.51 L137.95,26.11 L138.02,26.71 L138.09,27.31 L138.16,27.91 L138.23,28.51 L138.31,29.11 L138.38,29.70 L138.45,30.29 L138.52,30.87 L138.59,31.45 L138.66,32.03 L138.73,32.59 L138.80,33.15 L138.88,33.70 L138.95,34.25 L139.02,34.78 L139.09,35.30 L139.16,35.82 L139.23,36.32 L139.30,36.82 L139.37,37.31 L139.44,37.78 L139.52,38.24 L139.59,38.70 L139.66,39.14 L139.73,39.57 L139.80,39.98 L139.87,40.39 L139.94,40.79 L140.01,41.17 L140.09,41.54 L140.16,41.90 L140.23,42.25 L140.30,42.58 L140.37,42.90 L140.44,43.21 L140.51,43.51 L140.59,43.80 L140.66,44.07 L140.73,44.33 L140.80,44.58 L140.87,44.82 L140.94,45.04 L141.01,45.25 L141.08,45.45 L141.16,45.64 L141.23,45.82 L141.30,45.98 L141.37,46.13 L141.44,46.26 L141.51,46.39 L141.58,46.50 L141.65,46.60 L141.73,46.69 L141.80,46.76 L141.87,46.82 L141.94,46.87 L142.01,46.90 L142.08,46.93 L142.15,46.93 L142.22,46.93 L142.30,46.91 L142.37,46.88 L142.44,46.83 L142.51,46.77 L142.58,46.69 L142.65,46.60 L142.72,46.50 L142.79,46.38 L142.87,46.25 L142.94,46.10 L143.01,45.93 L143.08,45.75 L143.15,45.55 L143.22,45.33 L143.29,45.10 L143.36,44.85 L143.44,44.59 L143.51,44.30 L143.58,44.00 L143.65,43.68 L143.72,43.34 L143.79,42.98 L143.86,42.60 L143.93,42.19 L144.00,41.77 L144.08,41.33 L144.15,40.87 L144.22,40.38 L144.29,39.87 L144.36,39.34 L144.43,38.79 L144.50,38.22 L144.57,37.62 L144.65,37.00 L144.72,36.35 L144.79,35.68 L144.86,34.99 L144.93,34.28 L145.00,33.54 L145.07,32.78 L145.15,32.00 L145.22,31.20 L145.29,30.38 L145.36,29.54 L145.43,28.69 L145.50,27.82 L145.57,26.94 L145.64,26.05 L145.72,25.16 L145.79,24.26 L145.86,23.36 L145.93,22.46 L146.00,21.58 L146.07,20.71 L146.14,19.85 L146.21,19.03 L146.29,18.23 L146.36,17.47 L146.43,16.76 L146.50,16.10 L146.57,15.50 L146.64,14.96 L146.71,14.49 L146.78,14.10 L146.86,13.80 L146.93,13.59 L147.00,13.47 L147.07,13.46 L147.14,13.54 L147.21,13.73 L147.28,14.03 L147.35,14.43 L147.43,14.94 L147.50,15.55 L147.57,16.26 L147.64,17.06 L147.71,17.96 L147.78,18.93 L147.85,19.98 L147.92,21.10 L148.00,22.28 L148.07,23.51 L148.14,24.78 L148.21,26.08 L148.28,27.42 L148.35,28.77 L148.42,30.13 L148.49,31.50 L148.56,32.87 L148.64,34.22 L148.71,35.57 L148.78,36.89 L148.85,38.20 L148.92,39.48 L148.99,40.73 L149.06,41.95 L149.13,43.13 L149.21,44.28 L149.28,45.39 L149.35,46.47 L149.42,47.51 L149.49,48.51 L149.56,49.47 L149.63,50.39 L149.70,51.27 L149.78,52.12 L149.85,52.93 L149.92,53.70 L149.99,54.44 L150.06,55.14 L150.13,55.80 L150.20,56.43 L150.27,57.03 L150.35,57.59 L150.42,58.12 L150.49,58.63 L150.56,59.10 L150.63,59.54 L150.70,59.95 L150.77,60.33 L150.84,60.68 L150.92,61.01 L150.99,61.30 L151.06,61.57 L151.13,61.82 L151.20,62.03 L151.27,62.22 L151.34,62.38 L151.41,62.51 L151.49,62.61 L151.56,62.69 L151.63,62.73 L151.70,62.75 L151.77,62.73 L151.84,62.69 L151.91,62.61 L151.99,62.49 L152.06,62.34 L152.13,62.14 L152.20,61.91 L152.27,61.63 L152.34,61.30 L152.41,60.92 L152.48,60.48 L152.56,59.98 L152.63,59.41 L152.70,58.77 L152.77,58.05 L152.84,57.23 L152.91,56.32 L152.98,55.29 L153.05,54.14 L153.12,52.84 L153.20,51.39 L153.27,49.77 L153.34,47.95 L153.41,45.92 L153.48,43.66 L153.55,41.14 L153.62,38.37 L153.69,35.34 L153.77,32.08 L153.84,28.62 L153.91,25.07 L153.98,21.58 L154.05,18.37 L154.12,15.73 L154.19,13.98 L154.26,13.46 L154.34,14.39 L154.41,16.84 L154.48,20.68 L154.55,25.60 L154.62,31.16 L154.69,36.97 L154.76,42.65 L154.84,47.98 L154.91,52.82 L154.98,57.10 L155.05,60.83 L155.12,64.05 L155.19,66.80 L155.26,69.15 L155.33,71.16 L155.41,72.87 L155.48,74.32 L155.55,75.57 L155.62,76.63 L155.69,77.55 L155.76,78.33 L155.83,79.02 L155.90,79.61 L155.98,80.12 L156.05,80.57 L156.12,80.96 L156.19,81.30 L156.26,81.60 L156.33,81.87 L156.40,82.11 L156.47,82.32 L156.55,82.50 L156.62,82.67 L156.69,82.81 L156.76,82.95 L156.83,83.07 L156.90,83.17 L156.97,83.27 L157.04,83.35 L157.12,83.43 L157.19,83.50 L157.26,83.57 L157.33,83.62 L157.40,83.68 L157.47,83.73 L157.54,83.77 L157.61,83.81 L157.69,83.85 L157.76,83.88 L157.83,83.91 L157.90,83.94 L157.97,83.96 L158.04,83.99 L158.11,84.01 L158.18,84.03 L158.25,84.05 L158.33,84.06 L158.40,84.08 L158.47,84.09 L158.54,84.11 L158.61,84.12 L158.68,84.13 L158.75,84.14 L158.82,84.15 L158.90,84.16 L158.97,84.17 L159.04,84.18 L159.11,84.19 L159.18,84.19 L159.25,84.20 L159.32,84.21 L159.40,84.21 L159.47,84.22 L159.54,84.22 L159.61,84.23 L159.68,84.23 L159.75,84.23 L159.82,84.24 L159.89,84.24 L159.97,84.24 L160.04,84.25 L160.11,84.25 L160.18,84.25 L160.25,84.26 L160.32,84.26 L160.39,84.26 L160.46,84.26 L160.54,84.26 L160.61,84.27 L160.68,84.27 L160.75,84.27 L160.82,84.27 L160.89,84.27 L160.96,84.27 L161.03,84.28 L161.11,84.28 L161.18,84.28 L161.25,84.28 L161.32,84.28 L161.39,84.28 L161.46,84.28 L161.53,84.28 L161.60,84.28 L161.68,84.28 L161.75,84.29 L161.82,84.29 L161.89,84.29 L161.96,84.29 L162.03,84.29 L162.10,84.29 L162.17,84.29 L162.25,84.29 L162.32,84.29 L162.39,84.29 L162.46,84.29 L162.53,84.29 L162.60,84.29 L162.67,84.29 L162.74,84.29 L162.81,84.29 L162.89,84.29 L162.96,84.29 L163.03,84.29 L163.10,84.29 L163.17,84.29 L163.24,84.29 L163.31,84.30 L163.38,84.30 L163.46,84.30 L163.53,84.30 L163.60,84.30 L163.67,84.30 L163.74,84.30 L163.81,84.30 L163.88,84.30 L163.95,84.30 L164.03,84.30 L164.10,84.30 L164.17,84.30 L164.24,84.30 L164.31,84.30 L164.38,84.30 L164.45,84.30 L164.52,84.30 L164.60,84.30 L164.67,84.30 L164.74,84.30 L164.81,84.30 L164.88,84.30 L164.95,84.30 L165.02,84.30 L165.09,84.30 L165.17,84.30 L165.24,84.30 L165.31,84.30 L165.38,84.30 L165.45,84.30 L165.52,84.30 L165.59,84.30 L165.66,84.30 L165.74,84.30 L165.81,84.30 L165.88,84.30 L165.95,84.30 L166.02,84.30 L166.09,84.30 L166.16,84.30 L166.24,84.30 L166.31,84.30 L166.38,84.30 L166.45,84.30 L166.52,84.30 L166.59,84.30 L166.66,84.30 L166.73,84.30 L166.81,84.30 L166.88,84.30 L166.95,84.30 L167.02,84.30 L167.09,84.30 L167.16,84.30 L167.23,84.30 L167.30,84.30 L167.38,84.30 L167.45,84.30 L167.52,84.30 L167.59,84.30 L167.66,84.30 L167.73,84.30 L167.80,84.30 L167.87,84.30 L167.94,84.30 L168.02,84.30 L168.09,84.30 L168.16,84.30 L168.23,84.30 L168.30,84.30 L168.37,84.30 L168.44,84.30 L168.51,84.30 L168.59,84.30 L168.66,84.30 L168.73,84.30 L168.80,84.30 L168.87,84.30 L168.94,84.30 L169.01,84.30 L169.09,84.30 L169.16,84.30 L169.23,84.30 L169.30,84.30 L169.37,84.30 L169.44,84.30 L169.51,84.30 L169.58,84.30 L169.66,84.30 L169.73,84.30 L169.80,84.30 L169.87,84.30 L169.94,84.30 L170.01,84.30 L170.08,84.30 L170.15,84.30 L170.23,84.30 L170.30,84.30 L170.37,84.30 L170.44,84.30 L170.51,84.30 L170.58,84.30 L170.65,84.30 L170.72,84.30 L170.80,84.30 L170.87,84.30 L170.94,84.30 L171.01,84.30 L171.08,84.30 L171.15,84.30 L171.22,84.30 L171.29,84.30 L171.37,84.30 L171.44,84.30 L171.51,84.30 L171.58,84.30 L171.65,84.30 L171.72,84.30 L171.79,84.30 L171.86,84.30 L171.94,84.30 L172.01,84.30 L172.08,84.30 L172.15,84.30 L172.22,84.30 L172.29,84.30 L172.36,84.30 L172.43,84.30 L172.50,84.30 L172.58,84.30 L172.65,84.30 L172.72,84.30 L172.79,84.30 L172.86,84.30 L172.93,84.30 L173.00,84.30 L173.07,84.30 L173.15,84.30 L173.22,84.30 L173.29,84.30 L173.36,84.30 L173.43,84.30 L173.50,84.30 L173.57,84.30 L173.65,84.30 L173.72,84.30 L173.79,84.30 L173.86,84.30 L173.93,84.30 L174.00,84.30 L174.07,84.30 L174.14,84.30 L174.22,84.30 L174.29,84.30 L174.36,84.30 L174.43,84.30 L174.50,84.30" fill="none" stroke="#DA70D6" stroke-width="1.65" stroke-linejoin="round" stroke-linecap="butt" clip-path="url(#cpa1)"/>
<path d="M152.81,84.55 h2.6 M145.39,84.55 h2.6 M134.01,84.55 h2.6 M120.06,84.55 h2.6 M105.21,84.55 h2.6 M91.26,84.55 h2.6 M79.89,84.55 h2.6 M72.47,84.55 h2.6" stroke="#5a5060" stroke-width="0.5" fill="none"/>
<text x="60.50" y="98.35" text-anchor="middle">−8</text>
<text x="89.00" y="98.35" text-anchor="middle">−4</text>
<text x="117.50" y="98.35" text-anchor="middle">0</text>
<text x="146.00" y="98.35" text-anchor="middle">4</text>
<text x="174.50" y="98.35" text-anchor="middle">8</text>
<text x="55.0" y="87.90" text-anchor="end">0</text>
<text x="55.0" y="17.05" text-anchor="end">1</text>
<text x="55.5" y="35.15" text-anchor="end" font-size="13" textLength="16.6" lengthAdjust="spacingAndGlyphs">(a)</text>
<path d="M89.20,109.10 H98.20 M95.60,106.50 L98.20,109.10 L95.60,111.70" fill="none" stroke="#222" stroke-width="1.0" stroke-linecap="round" stroke-linejoin="round"/>
<text x="103.8" y="113.2" font-size="14.4" textLength="43.6" lengthAdjust="spacingAndGlyphs">Energy</text>
<g transform="translate(30.7,48.875) rotate(-90)"><path d="M-16.50,-3.70 H-7.50 M-10.10,-6.30 L-7.50,-3.70 L-10.10,-1.10" fill="none" stroke="#222" stroke-width="1.0" stroke-linecap="round" stroke-linejoin="round"/><text x="-2.5999999999999996" y="0">g</text><path d="M7.80,3.30 V-3.50 M6.20,-1.30 L7.80,-3.50 L9.40,-1.30" fill="none" stroke="#222" stroke-width="0.7" stroke-linecap="round" stroke-linejoin="round"/><path d="M12.90,3.30 V-3.50 M11.30,-1.30 L12.90,-3.50 L14.50,-1.30" fill="none" stroke="#222" stroke-width="0.7" stroke-linecap="round" stroke-linejoin="round"/></g>
<path d="M259.5,84.3 V13.45 M374.5,13.45 V84.3" fill="none" stroke="#000" stroke-width="0.46" stroke-linecap="square"/>
<path d="M259.5,13.45 H374.5" fill="none" stroke="#000" stroke-width="0.6" stroke-linecap="square"/>
<path d="M288.25,84.3 v-2.5 M288.25,13.45 v2.5 M317.00,84.3 v-2.5 M317.00,13.45 v2.5 M345.75,84.3 v-2.5 M345.75,13.45 v2.5 M259.5,66.59 h2.5 M374.5,66.59 h-2.5 M259.5,48.88 h2.5 M374.5,48.88 h-2.5 M259.5,31.16 h2.5 M374.5,31.16 h-2.5" stroke="#000" stroke-width="0.46" fill="none"/>
<clipPath id="cpb0"><rect x="258.3" y="13.80" width="117.4" height="71.20"/></clipPath>
<path d="M277.76,84.30 L277.83,84.30 L277.90,84.30 L277.97,84.30 L278.04,84.30 L278.12,84.30 L278.19,84.30 L278.26,84.30 L278.33,84.29 L278.40,84.29 L278.48,84.29 L278.55,84.29 L278.62,84.29 L278.69,84.29 L278.76,84.29 L278.83,84.29 L278.91,84.28 L278.98,84.28 L279.05,84.28 L279.12,84.27 L279.19,84.26 L279.27,84.26 L279.34,84.24 L279.41,84.23 L279.48,84.20 L279.55,84.17 L279.62,84.11 L279.70,84.02 L279.77,83.84 L279.84,83.44 L279.91,82.25 L279.98,75.74 L280.06,18.26 L280.13,77.67 L280.20,82.28 L280.27,83.32 L280.34,83.71 L280.42,83.90 L280.49,84.01 L280.56,84.07 L280.63,84.12 L280.70,84.15 L280.77,84.17 L280.85,84.19 L280.92,84.20 L280.99,84.21 L281.06,84.22 L281.13,84.23 L281.21,84.23 L281.28,84.24 L281.35,84.24 L281.42,84.25 L281.49,84.25 L281.57,84.25 L281.64,84.25 L281.71,84.25 L281.78,84.26 L281.85,84.26 L281.93,84.26 L282.00,84.26 L282.07,84.26 L282.14,84.26 L282.21,84.26 L282.28,84.26 L282.36,84.26 L282.43,84.26 L282.50,84.26 L282.57,84.26 L282.64,84.26 L282.72,84.26 L282.79,84.26 L282.86,84.26 L282.93,84.26 L283.00,84.26 L283.07,84.26 L283.15,84.26 L283.22,84.26 L283.29,84.26 L283.36,84.26 L283.43,84.26 L283.51,84.26 L283.58,84.26 L283.65,84.26 L283.72,84.26 L283.79,84.25 L283.87,84.25 L283.94,84.25 L284.01,84.25 L284.08,84.25 L284.15,84.25 L284.23,84.25 L284.30,84.24 L284.37,84.24 L284.44,84.24 L284.51,84.24 L284.58,84.23 L284.66,84.23 L284.73,84.23 L284.80,84.22 L284.87,84.22 L284.94,84.21 L285.02,84.21 L285.09,84.20 L285.16,84.20 L285.23,84.19 L285.30,84.19 L285.38,84.18 L285.45,84.17 L285.52,84.16 L285.59,84.15 L285.66,84.14 L285.73,84.12 L285.81,84.11 L285.88,84.09 L285.95,84.07 L286.02,84.04 L286.09,84.01 L286.17,83.98 L286.24,83.94 L286.31,83.90 L286.38,83.84 L286.45,83.77 L286.52,83.69 L286.60,83.58 L286.67,83.45 L286.74,83.28 L286.81,83.05 L286.88,82.73 L286.96,82.29 L287.03,81.64 L287.10,80.62 L287.17,78.93 L287.24,75.87 L287.32,69.61 L287.39,55.18 L287.46,25.23 L287.53,19.16 L287.60,49.93 L287.68,66.95 L287.75,74.35 L287.82,77.93 L287.89,79.89 L287.96,81.06 L288.03,81.82 L288.11,82.34 L288.18,82.70 L288.25,82.97 L288.32,83.18 L288.39,83.33 L288.47,83.46 L288.54,83.56 L288.61,83.64 L288.68,83.71 L288.75,83.77 L288.82,83.82 L288.90,83.86 L288.97,83.89 L289.04,83.92 L289.11,83.95 L289.18,83.97 L289.26,84.00 L289.33,84.01 L289.40,84.03 L289.47,84.04 L289.54,84.06 L289.62,84.07 L289.69,84.08 L289.76,84.09 L289.83,84.10 L289.90,84.11 L289.98,84.11 L290.05,84.12 L290.12,84.13 L290.19,84.13 L290.26,84.14 L290.33,84.14 L290.41,84.15 L290.48,84.15 L290.55,84.16 L290.62,84.16 L290.69,84.16 L290.77,84.17 L290.84,84.17 L290.91,84.17 L290.98,84.17 L291.05,84.17 L291.12,84.18 L291.20,84.18 L291.27,84.18 L291.34,84.18 L291.41,84.18 L291.48,84.18 L291.56,84.19 L291.63,84.19 L291.70,84.19 L291.77,84.19 L291.84,84.19 L291.92,84.19 L291.99,84.19 L292.06,84.19 L292.13,84.19 L292.20,84.19 L292.27,84.19 L292.35,84.19 L292.42,84.19 L292.49,84.19 L292.56,84.19 L292.63,84.19 L292.71,84.19 L292.78,84.19 L292.85,84.19 L292.92,84.19 L292.99,84.19 L293.07,84.19 L293.14,84.19 L293.21,84.19 L293.28,84.18 L293.35,84.18 L293.43,84.18 L293.50,84.18 L293.57,84.18 L293.64,84.18 L293.71,84.18 L293.78,84.17 L293.86,84.17 L293.93,84.17 L294.00,84.17 L294.07,84.17 L294.14,84.16 L294.22,84.16 L294.29,84.16 L294.36,84.15 L294.43,84.15 L294.50,84.15 L294.57,84.14 L294.65,84.14 L294.72,84.14 L294.79,84.13 L294.86,84.13 L294.93,84.12 L295.01,84.12 L295.08,84.11 L295.15,84.11 L295.22,84.10 L295.29,84.10 L295.37,84.09 L295.44,84.08 L295.51,84.07 L295.58,84.07 L295.65,84.06 L295.73,84.05 L295.80,84.04 L295.87,84.03 L295.94,84.01 L296.01,84.00 L296.08,83.99 L296.16,83.97 L296.23,83.96 L296.30,83.94 L296.37,83.92 L296.44,83.90 L296.52,83.88 L296.59,83.85 L296.66,83.83 L296.73,83.80 L296.80,83.76 L296.88,83.73 L296.95,83.69 L297.02,83.64 L297.09,83.59 L297.16,83.53 L297.23,83.47 L297.31,83.40 L297.38,83.32 L297.45,83.22 L297.52,83.12 L297.59,82.99 L297.67,82.84 L297.74,82.67 L297.81,82.47 L297.88,82.22 L297.95,81.93 L298.02,81.56 L298.10,81.11 L298.17,80.54 L298.24,79.80 L298.31,78.83 L298.38,77.53 L298.46,75.72 L298.53,73.15 L298.60,69.37 L298.67,63.62 L298.74,54.70 L298.82,41.29 L298.89,24.52 L298.96,13.68 L299.03,19.82 L299.10,36.04 L299.18,50.68 L299.25,60.78 L299.32,67.35 L299.39,71.66 L299.46,74.57 L299.53,76.60 L299.61,78.07 L299.68,79.16 L299.75,79.98 L299.82,80.62 L299.89,81.13 L299.97,81.54 L300.04,81.87 L300.11,82.14 L300.18,82.37 L300.25,82.56 L300.32,82.73 L300.40,82.87 L300.47,82.99 L300.54,83.10 L300.61,83.19 L300.68,83.27 L300.76,83.34 L300.83,83.41 L300.90,83.47 L300.97,83.52 L301.04,83.56 L301.12,83.60 L301.19,83.64 L301.26,83.68 L301.33,83.71 L301.40,83.74 L301.48,83.76 L301.55,83.79 L301.62,83.81 L301.69,83.83 L301.76,83.85 L301.83,83.87 L301.91,83.88 L301.98,83.90 L302.05,83.91 L302.12,83.92 L302.19,83.94 L302.27,83.95 L302.34,83.96 L302.41,83.97 L302.48,83.98 L302.55,83.99 L302.62,84.00 L302.70,84.00 L302.77,84.01 L302.84,84.02 L302.91,84.02 L302.98,84.03 L303.06,84.04 L303.13,84.04 L303.20,84.05 L303.27,84.05 L303.34,84.06 L303.42,84.06 L303.49,84.06 L303.56,84.07 L303.63,84.07 L303.70,84.07 L303.77,84.08 L303.85,84.08 L303.92,84.08 L303.99,84.09 L304.06,84.09 L304.13,84.09 L304.21,84.09 L304.28,84.09 L304.35,84.10 L304.42,84.10 L304.49,84.10 L304.57,84.10 L304.64,84.10 L304.71,84.10 L304.78,84.10 L304.85,84.11 L304.93,84.11 L305.00,84.11 L305.07,84.11 L305.14,84.11 L305.21,84.11 L305.28,84.11 L305.36,84.11 L305.43,84.11 L305.50,84.11 L305.57,84.11 L305.64,84.11 L305.72,84.11 L305.79,84.11 L305.86,84.11 L305.93,84.11 L306.00,84.11 L306.07,84.11 L306.15,84.11 L306.22,84.11 L306.29,84.11 L306.36,84.10 L306.43,84.10 L306.51,84.10 L306.58,84.10 L306.65,84.10 L306.72,84.10 L306.79,84.10 L306.87,84.09 L306.94,84.09 L307.01,84.09 L307.08,84.09 L307.15,84.09 L307.23,84.08 L307.30,84.08 L307.37,84.08 L307.44,84.07 L307.51,84.07 L307.58,84.07 L307.66,84.07 L307.73,84.06 L307.80,84.06 L307.87,84.05 L307.94,84.05 L308.02,84.05 L308.09,84.04 L308.16,84.04 L308.23,84.03 L308.30,84.02 L308.38,84.02 L308.45,84.01 L308.52,84.01 L308.59,84.00 L308.66,83.99 L308.73,83.99 L308.81,83.98 L308.88,83.97 L308.95,83.96 L309.02,83.95 L309.09,83.94 L309.17,83.93 L309.24,83.92 L309.31,83.91 L309.38,83.90 L309.45,83.88 L309.52,83.87 L309.60,83.85 L309.67,83.84 L309.74,83.82 L309.81,83.80 L309.88,83.78 L309.96,83.76 L310.03,83.74 L310.10,83.72 L310.17,83.69 L310.24,83.66 L310.32,83.63 L310.39,83.60 L310.46,83.56 L310.53,83.53 L310.60,83.48 L310.68,83.44 L310.75,83.39 L310.82,83.34 L310.89,83.28 L310.96,83.21 L311.03,83.14 L311.11,83.06 L311.18,82.97 L311.25,82.87 L311.32,82.76 L311.39,82.63 L311.47,82.49 L311.54,82.32 L311.61,82.14 L311.68,81.92 L311.75,81.67 L311.82,81.38 L311.90,81.04 L311.97,80.64 L312.04,80.15 L312.11,79.56 L312.18,78.85 L312.26,77.95 L312.33,76.84 L312.40,75.40 L312.47,73.55 L312.54,71.09 L312.62,67.78 L312.69,63.24 L312.76,56.97 L312.83,48.38 L312.90,37.23 L312.98,24.74 L313.05,15.22 L313.12,14.37 L313.19,22.79 L313.26,35.13 L313.33,46.60 L313.41,55.58 L313.48,62.18 L313.55,66.95 L313.62,70.44 L313.69,73.03 L313.77,74.98 L313.84,76.48 L313.91,77.65 L313.98,78.58 L314.05,79.33 L314.12,79.94 L314.20,80.45 L314.27,80.87 L314.34,81.23 L314.41,81.53 L314.48,81.79 L314.56,82.01 L314.63,82.21 L314.70,82.38 L314.77,82.53 L314.84,82.66 L314.92,82.77 L314.99,82.88 L315.06,82.97 L315.13,83.06 L315.20,83.13 L315.27,83.20 L315.35,83.26 L315.42,83.32 L315.49,83.37 L315.56,83.42 L315.63,83.46 L315.71,83.50 L315.78,83.54 L315.85,83.57 L315.92,83.60 L315.99,83.63 L316.07,83.66 L316.14,83.69 L316.21,83.71 L316.28,83.73 L316.35,83.75 L316.43,83.77 L316.50,83.79 L316.57,83.81 L316.64,83.82 L316.71,83.84 L316.78,83.85 L316.86,83.86 L316.93,83.88 L317.00,83.89 L317.07,83.90 L317.14,83.91 L317.22,83.92 L317.29,83.93 L317.36,83.94 L317.43,83.95 L317.50,83.95 L317.57,83.96 L317.65,83.97 L317.72,83.98 L317.79,83.98 L317.86,83.99 L317.93,83.99 L318.01,84.00 L318.08,84.00 L318.15,84.01 L318.22,84.01 L318.29,84.02 L318.37,84.02 L318.44,84.03 L318.51,84.03 L318.58,84.03 L318.65,84.04 L318.73,84.04 L318.80,84.04 L318.87,84.05 L318.94,84.05 L319.01,84.05 L319.08,84.05 L319.16,84.06 L319.23,84.06 L319.30,84.06 L319.37,84.06 L319.44,84.06 L319.52,84.07 L319.59,84.07 L319.66,84.07 L319.73,84.07 L319.80,84.07 L319.88,84.07 L319.95,84.07 L320.02,84.07 L320.09,84.08 L320.16,84.08 L320.23,84.08 L320.31,84.08 L320.38,84.08 L320.45,84.08 L320.52,84.08 L320.59,84.08 L320.67,84.08 L320.74,84.08 L320.81,84.08 L320.88,84.08 L320.95,84.08 L321.02,84.08 L321.10,84.08 L321.17,84.08 L321.24,84.08 L321.31,84.07 L321.38,84.07 L321.46,84.07 L321.53,84.07 L321.60,84.07 L321.67,84.07 L321.74,84.07 L321.82,84.06 L321.89,84.06 L321.96,84.06 L322.03,84.06 L322.10,84.06 L322.18,84.05 L322.25,84.05 L322.32,84.05 L322.39,84.05 L322.46,84.04 L322.53,84.04 L322.61,84.04 L322.68,84.03 L322.75,84.03 L322.82,84.03 L322.89,84.02 L322.97,84.02 L323.04,84.01 L323.11,84.01 L323.18,84.00 L323.25,84.00 L323.32,83.99 L323.40,83.99 L323.47,83.98 L323.54,83.98 L323.61,83.97 L323.68,83.96 L323.76,83.95 L323.83,83.95 L323.90,83.94 L323.97,83.93 L324.04,83.92 L324.12,83.91 L324.19,83.90 L324.26,83.89 L324.33,83.88 L324.40,83.86 L324.48,83.85 L324.55,83.84 L324.62,83.82 L324.69,83.81 L324.76,83.79 L324.83,83.77 L324.91,83.75 L324.98,83.73 L325.05,83.71 L325.12,83.68 L325.19,83.66 L325.27,83.63 L325.34,83.60 L325.41,83.57 L325.48,83.54 L325.55,83.50 L325.62,83.46 L325.70,83.41 L325.77,83.36 L325.84,83.31 L325.91,83.25 L325.98,83.19 L326.06,83.12 L326.13,83.04 L326.20,82.95 L326.27,82.86 L326.34,82.75 L326.42,82.63 L326.49,82.49 L326.56,82.33 L326.63,82.16 L326.70,81.95 L326.77,81.72 L326.85,81.44 L326.92,81.12 L326.99,80.74 L327.06,80.29 L327.13,79.74 L327.21,79.08 L327.28,78.26 L327.35,77.23 L327.42,75.92 L327.49,74.24 L327.57,72.02 L327.64,69.04 L327.71,64.97 L327.78,59.35 L327.85,51.57 L327.93,41.15 L328.00,28.67 L328.07,17.44 L328.14,13.54 L328.21,19.83 L328.28,31.96 L328.36,44.16 L328.43,53.95 L328.50,61.15 L328.57,66.34 L328.64,70.09 L328.72,72.85 L328.79,74.91 L328.86,76.47 L328.93,77.69 L329.00,78.65 L329.07,79.42 L329.15,80.04 L329.22,80.56 L329.29,80.98 L329.36,81.34 L329.43,81.64 L329.51,81.90 L329.58,82.12 L329.65,82.32 L329.72,82.48 L329.79,82.63 L329.87,82.76 L329.94,82.87 L330.01,82.98 L330.08,83.07 L330.15,83.15 L330.23,83.22 L330.30,83.29 L330.37,83.35 L330.44,83.40 L330.51,83.45 L330.58,83.50 L330.66,83.54 L330.73,83.58 L330.80,83.61 L330.87,83.65 L330.94,83.68 L331.02,83.70 L331.09,83.73 L331.16,83.75 L331.23,83.78 L331.30,83.80 L331.38,83.82 L331.45,83.83 L331.52,83.85 L331.59,83.87 L331.66,83.88 L331.73,83.90 L331.81,83.91 L331.88,83.92 L331.95,83.93 L332.02,83.94 L332.09,83.95 L332.17,83.96 L332.24,83.97 L332.31,83.98 L332.38,83.99 L332.45,84.00 L332.52,84.01 L332.60,84.01 L332.67,84.02 L332.74,84.03 L332.81,84.03 L332.88,84.04 L332.96,84.04 L333.03,84.05 L333.10,84.05 L333.17,84.06 L333.24,84.06 L333.32,84.07 L333.39,84.07 L333.46,84.07 L333.53,84.08 L333.60,84.08 L333.68,84.08 L333.75,84.09 L333.82,84.09 L333.89,84.09 L333.96,84.09 L334.03,84.10 L334.11,84.10 L334.18,84.10 L334.25,84.10 L334.32,84.11 L334.39,84.11 L334.47,84.11 L334.54,84.11 L334.61,84.11 L334.68,84.11 L334.75,84.11 L334.82,84.12 L334.90,84.12 L334.97,84.12 L335.04,84.12 L335.11,84.12 L335.18,84.12 L335.26,84.12 L335.33,84.12 L335.40,84.12 L335.47,84.12 L335.54,84.12 L335.62,84.12 L335.69,84.12 L335.76,84.12 L335.83,84.12 L335.90,84.12 L335.98,84.12 L336.05,84.12 L336.12,84.12 L336.19,84.12 L336.26,84.12 L336.33,84.12 L336.41,84.12 L336.48,84.12 L336.55,84.12 L336.62,84.12 L336.69,84.11 L336.77,84.11 L336.84,84.11 L336.91,84.11 L336.98,84.11 L337.05,84.11 L337.12,84.10 L337.20,84.10 L337.27,84.10 L337.34,84.10 L337.41,84.09 L337.48,84.09 L337.56,84.09 L337.63,84.09 L337.70,84.08 L337.77,84.08 L337.84,84.07 L337.92,84.07 L337.99,84.07 L338.06,84.06 L338.13,84.06 L338.20,84.05 L338.27,84.05 L338.35,84.04 L338.42,84.04 L338.49,84.03 L338.56,84.02 L338.63,84.01 L338.71,84.01 L338.78,84.00 L338.85,83.99 L338.92,83.98 L338.99,83.97 L339.07,83.96 L339.14,83.95 L339.21,83.94 L339.28,83.92 L339.35,83.91 L339.43,83.89 L339.50,83.88 L339.57,83.86 L339.64,83.84 L339.71,83.82 L339.78,83.79 L339.86,83.77 L339.93,83.74 L340.00,83.71 L340.07,83.68 L340.14,83.64 L340.22,83.60 L340.29,83.56 L340.36,83.51 L340.43,83.45 L340.50,83.39 L340.57,83.32 L340.65,83.24 L340.72,83.15 L340.79,83.04 L340.86,82.92 L340.93,82.78 L341.01,82.61 L341.08,82.42 L341.15,82.19 L341.22,81.90 L341.29,81.56 L341.37,81.14 L341.44,80.60 L341.51,79.91 L341.58,79.01 L341.65,77.81 L341.73,76.15 L341.80,73.78 L341.87,70.30 L341.94,64.96 L342.01,56.57 L342.08,43.57 L342.16,26.31 L342.23,13.90 L342.30,19.76 L342.37,37.07 L342.44,52.35 L342.52,62.52 L342.59,68.93 L342.66,73.04 L342.73,75.76 L342.80,77.64 L342.88,78.98 L342.95,79.96 L343.02,80.69 L343.09,81.26 L343.16,81.71 L343.23,82.06 L343.31,82.35 L343.38,82.59 L343.45,82.78 L343.52,82.95 L343.59,83.09 L343.67,83.21 L343.74,83.31 L343.81,83.40 L343.88,83.47 L343.95,83.54 L344.02,83.60 L344.10,83.65 L344.17,83.70 L344.24,83.74 L344.31,83.78 L344.38,83.81 L344.46,83.84 L344.53,83.87 L344.60,83.90 L344.67,83.92 L344.74,83.94 L344.82,83.96 L344.89,83.98 L344.96,83.99 L345.03,84.01 L345.10,84.02 L345.18,84.03 L345.25,84.04 L345.32,84.05 L345.39,84.06 L345.46,84.07 L345.53,84.08 L345.61,84.09 L345.68,84.10 L345.75,84.11 L345.82,84.11 L345.89,84.12 L345.97,84.12 L346.04,84.13 L346.11,84.14 L346.18,84.14 L346.25,84.14 L346.32,84.15 L346.40,84.15 L346.47,84.16 L346.54,84.16 L346.61,84.16 L346.68,84.17 L346.76,84.17 L346.83,84.17 L346.90,84.18 L346.97,84.18 L347.04,84.18 L347.12,84.18 L347.19,84.18 L347.26,84.19 L347.33,84.19 L347.40,84.19 L347.48,84.19 L347.55,84.19 L347.62,84.19 L347.69,84.20 L347.76,84.20 L347.83,84.20 L347.91,84.20 L347.98,84.20 L348.05,84.20 L348.12,84.20 L348.19,84.20 L348.27,84.20 L348.34,84.20 L348.41,84.21 L348.48,84.21 L348.55,84.21 L348.62,84.21 L348.70,84.21 L348.77,84.21 L348.84,84.21 L348.91,84.21 L348.98,84.21 L349.06,84.21 L349.13,84.21 L349.20,84.21 L349.27,84.21 L349.34,84.21 L349.42,84.21 L349.49,84.20 L349.56,84.20 L349.63,84.20 L349.70,84.20 L349.77,84.20 L349.85,84.20 L349.92,84.20 L349.99,84.20 L350.06,84.20 L350.13,84.19 L350.21,84.19 L350.28,84.19 L350.35,84.19 L350.42,84.19 L350.49,84.18 L350.57,84.18 L350.64,84.18 L350.71,84.18 L350.78,84.17 L350.85,84.17 L350.93,84.17 L351.00,84.16 L351.07,84.16 L351.14,84.15 L351.21,84.15 L351.28,84.14 L351.36,84.13 L351.43,84.13 L351.50,84.12 L351.57,84.11 L351.64,84.10 L351.72,84.09 L351.79,84.08 L351.86,84.07 L351.93,84.05 L352.00,84.03 L352.07,84.02 L352.15,83.99 L352.22,83.97 L352.29,83.94 L352.36,83.91 L352.43,83.87 L352.51,83.82 L352.58,83.77 L352.65,83.71 L352.72,83.63 L352.79,83.53 L352.87,83.41 L352.94,83.25 L353.01,83.04 L353.08,82.76 L353.15,82.36 L353.23,81.79 L353.30,80.90 L353.37,79.44 L353.44,76.78 L353.51,71.31 L353.58,58.14 L353.66,27.34 L353.73,20.38 L353.80,54.16 L353.87,70.18 L353.94,76.56 L354.02,79.51 L354.09,81.08 L354.16,82.00 L354.23,82.58 L354.30,82.97 L354.38,83.25 L354.45,83.44 L354.52,83.59 L354.59,83.71 L354.66,83.79 L354.73,83.87 L354.81,83.92 L354.88,83.97 L354.95,84.01 L355.02,84.04 L355.09,84.07 L355.17,84.09 L355.24,84.11 L355.31,84.13 L355.38,84.14 L355.45,84.16 L355.52,84.17 L355.60,84.18 L355.67,84.19 L355.74,84.20 L355.81,84.20 L355.88,84.21 L355.96,84.21 L356.03,84.22 L356.10,84.22 L356.17,84.23 L356.24,84.23 L356.32,84.24 L356.39,84.24 L356.46,84.24 L356.53,84.25 L356.60,84.25 L356.68,84.25 L356.75,84.25 L356.82,84.25 L356.89,84.26 L356.96,84.26 L357.03,84.26 L357.11,84.26 L357.18,84.26 L357.25,84.26 L357.32,84.26 L357.39,84.27 L357.47,84.27 L357.54,84.27 L357.61,84.27 L357.68,84.27 L357.75,84.27 L357.82,84.27 L357.90,84.27 L357.97,84.27 L358.04,84.27 L358.11,84.27 L358.18,84.27 L358.26,84.27 L358.33,84.27 L358.40,84.27 L358.47,84.27 L358.54,84.27 L358.62,84.27 L358.69,84.27 L358.76,84.27 L358.83,84.27 L358.90,84.27 L358.98,84.27 L359.05,84.27 L359.12,84.27 L359.19,84.27 L359.26,84.27 L359.33,84.27 L359.41,84.27 L359.48,84.27 L359.55,84.27 L359.62,84.26 L359.69,84.26 L359.77,84.26 L359.84,84.26 L359.91,84.26 L359.98,84.25 L360.05,84.25 L360.12,84.24 L360.20,84.24 L360.27,84.23 L360.34,84.22 L360.41,84.21 L360.48,84.19 L360.56,84.17 L360.63,84.14 L360.70,84.09 L360.77,84.02 L360.84,83.89 L360.92,83.62 L360.99,82.93 L361.06,79.91 L361.13,28.62 L361.20,77.23 L361.27,82.75 L361.35,83.67 L361.42,83.97 L361.49,84.10 L361.56,84.17 L361.63,84.21 L361.71,84.23 L361.78,84.25 L361.85,84.26 L361.92,84.27 L361.99,84.28 L362.07,84.28 L362.14,84.28 L362.21,84.29 L362.28,84.29 L362.35,84.29 L362.43,84.29 L362.50,84.29 L362.57,84.29 L362.64,84.29 L362.71,84.30 L362.78,84.30 L362.86,84.30 L362.93,84.30 L363.00,84.30 L363.07,84.30 L363.14,84.30 L363.22,84.30 L363.29,84.30 L363.36,84.30 L363.43,84.30" fill="none" stroke="#1E90FF" stroke-width="1.35" stroke-linejoin="round" stroke-linecap="butt" clip-path="url(#cpb0)"/>
<clipPath id="cpb1"><rect x="258.3" y="13.80" width="117.4" height="70.80"/></clipPath>
<path d="M259.50,84.30 L259.57,84.30 L259.64,84.30 L259.72,84.30 L259.79,84.30 L259.86,84.30 L259.93,84.30 L260.00,84.30 L260.07,84.30 L260.15,84.30 L260.22,84.30 L260.29,84.30 L260.36,84.30 L260.43,84.30 L260.51,84.30 L260.58,84.30 L260.65,84.30 L260.72,84.30 L260.79,84.30 L260.87,84.30 L260.94,84.30 L261.01,84.30 L261.08,84.30 L261.15,84.30 L261.23,84.30 L261.30,84.30 L261.37,84.30 L261.44,84.30 L261.51,84.30 L261.58,84.30 L261.66,84.30 L261.73,84.30 L261.80,84.30 L261.87,84.30 L261.94,84.30 L262.02,84.30 L262.09,84.30 L262.16,84.30 L262.23,84.30 L262.30,84.30 L262.38,84.30 L262.45,84.30 L262.52,84.30 L262.59,84.30 L262.66,84.30 L262.73,84.30 L262.81,84.30 L262.88,84.30 L262.95,84.30 L263.02,84.30 L263.09,84.30 L263.17,84.30 L263.24,84.30 L263.31,84.30 L263.38,84.30 L263.45,84.30 L263.52,84.30 L263.60,84.30 L263.67,84.30 L263.74,84.30 L263.81,84.30 L263.88,84.30 L263.96,84.30 L264.03,84.30 L264.10,84.30 L264.17,84.30 L264.24,84.30 L264.32,84.30 L264.39,84.30 L264.46,84.30 L264.53,84.30 L264.60,84.30 L264.68,84.30 L264.75,84.30 L264.82,84.30 L264.89,84.30 L264.96,84.30 L265.03,84.30 L265.11,84.30 L265.18,84.30 L265.25,84.30 L265.32,84.30 L265.39,84.30 L265.47,84.30 L265.54,84.30 L265.61,84.30 L265.68,84.30 L265.75,84.30 L265.82,84.30 L265.90,84.30 L265.97,84.30 L266.04,84.30 L266.11,84.30 L266.18,84.30 L266.26,84.30 L266.33,84.30 L266.40,84.30 L266.47,84.30 L266.54,84.30 L266.62,84.30 L266.69,84.30 L266.76,84.30 L266.83,84.30 L266.90,84.30 L266.98,84.30 L267.05,84.30 L267.12,84.30 L267.19,84.30 L267.26,84.30 L267.33,84.30 L267.41,84.30 L267.48,84.30 L267.55,84.30 L267.62,84.30 L267.69,84.30 L267.77,84.30 L267.84,84.30 L267.91,84.30 L267.98,84.30 L268.05,84.30 L268.12,84.30 L268.20,84.30 L268.27,84.30 L268.34,84.30 L268.41,84.30 L268.48,84.30 L268.56,84.30 L268.63,84.30 L268.70,84.30 L268.77,84.30 L268.84,84.30 L268.92,84.30 L268.99,84.30 L269.06,84.30 L269.13,84.30 L269.20,84.30 L269.27,84.30 L269.35,84.30 L269.42,84.30 L269.49,84.30 L269.56,84.30 L269.63,84.30 L269.71,84.30 L269.78,84.30 L269.85,84.30 L269.92,84.30 L269.99,84.30 L270.07,84.30 L270.14,84.30 L270.21,84.30 L270.28,84.30 L270.35,84.30 L270.43,84.30 L270.50,84.30 L270.57,84.30 L270.64,84.30 L270.71,84.30 L270.78,84.30 L270.86,84.29 L270.93,84.29 L271.00,84.29 L271.07,84.29 L271.14,84.29 L271.22,84.29 L271.29,84.29 L271.36,84.29 L271.43,84.29 L271.50,84.29 L271.57,84.29 L271.65,84.29 L271.72,84.29 L271.79,84.29 L271.86,84.29 L271.93,84.29 L272.01,84.29 L272.08,84.29 L272.15,84.29 L272.22,84.29 L272.29,84.29 L272.37,84.29 L272.44,84.28 L272.51,84.28 L272.58,84.28 L272.65,84.28 L272.73,84.28 L272.80,84.28 L272.87,84.28 L272.94,84.28 L273.01,84.28 L273.08,84.28 L273.16,84.27 L273.23,84.27 L273.30,84.27 L273.37,84.27 L273.44,84.27 L273.52,84.27 L273.59,84.26 L273.66,84.26 L273.73,84.26 L273.80,84.26 L273.88,84.26 L273.95,84.25 L274.02,84.25 L274.09,84.25 L274.16,84.24 L274.23,84.24 L274.31,84.24 L274.38,84.23 L274.45,84.23 L274.52,84.23 L274.59,84.22 L274.67,84.22 L274.74,84.21 L274.81,84.21 L274.88,84.20 L274.95,84.19 L275.02,84.19 L275.10,84.18 L275.17,84.17 L275.24,84.16 L275.31,84.15 L275.38,84.14 L275.46,84.13 L275.53,84.12 L275.60,84.11 L275.67,84.09 L275.74,84.08 L275.82,84.06 L275.89,84.05 L275.96,84.03 L276.03,84.01 L276.10,83.99 L276.18,83.96 L276.25,83.94 L276.32,83.91 L276.39,83.88 L276.46,83.85 L276.53,83.81 L276.61,83.77 L276.68,83.73 L276.75,83.68 L276.82,83.62 L276.89,83.57 L276.97,83.50 L277.04,83.43 L277.11,83.35 L277.18,83.27 L277.25,83.17 L277.32,83.07 L277.40,82.95 L277.47,82.81 L277.54,82.67 L277.61,82.50 L277.68,82.32 L277.76,82.11 L277.83,81.87 L277.90,81.60 L277.97,81.30 L278.04,80.96 L278.12,80.57 L278.19,80.12 L278.26,79.61 L278.33,79.02 L278.40,78.33 L278.48,77.55 L278.55,76.63 L278.62,75.57 L278.69,74.32 L278.76,72.87 L278.83,71.16 L278.91,69.15 L278.98,66.80 L279.05,64.05 L279.12,60.83 L279.19,57.10 L279.27,52.82 L279.34,47.98 L279.41,42.65 L279.48,36.97 L279.55,31.16 L279.62,25.60 L279.70,20.68 L279.77,16.84 L279.84,14.39 L279.91,13.46 L279.98,13.98 L280.06,15.73 L280.13,18.37 L280.20,21.58 L280.27,25.07 L280.34,28.62 L280.42,32.08 L280.49,35.34 L280.56,38.37 L280.63,41.14 L280.70,43.66 L280.77,45.92 L280.85,47.95 L280.92,49.77 L280.99,51.39 L281.06,52.84 L281.13,54.14 L281.21,55.29 L281.28,56.32 L281.35,57.23 L281.42,58.05 L281.49,58.77 L281.57,59.41 L281.64,59.98 L281.71,60.48 L281.78,60.92 L281.85,61.30 L281.93,61.63 L282.00,61.91 L282.07,62.14 L282.14,62.34 L282.21,62.49 L282.28,62.61 L282.36,62.69 L282.43,62.73 L282.50,62.75 L282.57,62.73 L282.64,62.69 L282.72,62.61 L282.79,62.51 L282.86,62.38 L282.93,62.22 L283.00,62.03 L283.07,61.82 L283.15,61.57 L283.22,61.30 L283.29,61.01 L283.36,60.68 L283.43,60.33 L283.51,59.95 L283.58,59.54 L283.65,59.10 L283.72,58.63 L283.79,58.12 L283.87,57.59 L283.94,57.03 L284.01,56.43 L284.08,55.80 L284.15,55.14 L284.23,54.44 L284.30,53.70 L284.37,52.93 L284.44,52.12 L284.51,51.27 L284.58,50.39 L284.66,49.47 L284.73,48.51 L284.80,47.51 L284.87,46.47 L284.94,45.39 L285.02,44.28 L285.09,43.13 L285.16,41.95 L285.23,40.73 L285.30,39.48 L285.38,38.20 L285.45,36.89 L285.52,35.57 L285.59,34.22 L285.66,32.87 L285.73,31.50 L285.81,30.13 L285.88,28.77 L285.95,27.42 L286.02,26.08 L286.09,24.78 L286.17,23.51 L286.24,22.28 L286.31,21.10 L286.38,19.98 L286.45,18.93 L286.52,17.96 L286.60,17.06 L286.67,16.26 L286.74,15.55 L286.81,14.94 L286.88,14.43 L286.96,14.03 L287.03,13.73 L287.10,13.54 L287.17,13.46 L287.24,13.47 L287.32,13.59 L287.39,13.80 L287.46,14.10 L287.53,14.49 L287.60,14.96 L287.68,15.50 L287.75,16.10 L287.82,16.76 L287.89,17.47 L287.96,18.23 L288.03,19.03 L288.11,19.85 L288.18,20.71 L288.25,21.58 L288.32,22.46 L288.39,23.36 L288.47,24.26 L288.54,25.16 L288.61,26.05 L288.68,26.94 L288.75,27.82 L288.82,28.69 L288.90,29.54 L288.97,30.38 L289.04,31.20 L289.11,32.00 L289.18,32.78 L289.26,33.54 L289.33,34.28 L289.40,34.99 L289.47,35.68 L289.54,36.35 L289.62,37.00 L289.69,37.62 L289.76,38.22 L289.83,38.79 L289.90,39.34 L289.98,39.87 L290.05,40.38 L290.12,40.87 L290.19,41.33 L290.26,41.77 L290.33,42.19 L290.41,42.60 L290.48,42.98 L290.55,43.34 L290.62,43.68 L290.69,44.00 L290.77,44.30 L290.84,44.59 L290.91,44.85 L290.98,45.10 L291.05,45.33 L291.12,45.55 L291.20,45.75 L291.27,45.93 L291.34,46.10 L291.41,46.25 L291.48,46.38 L291.56,46.50 L291.63,46.60 L291.70,46.69 L291.77,46.77 L291.84,46.83 L291.92,46.88 L291.99,46.91 L292.06,46.93 L292.13,46.93 L292.20,46.93 L292.27,46.90 L292.35,46.87 L292.42,46.82 L292.49,46.76 L292.56,46.69 L292.63,46.60 L292.71,46.50 L292.78,46.39 L292.85,46.26 L292.92,46.13 L292.99,45.98 L293.07,45.82 L293.14,45.64 L293.21,45.45 L293.28,45.25 L293.35,45.04 L293.43,44.82 L293.50,44.58 L293.57,44.33 L293.64,44.07 L293.71,43.80 L293.78,43.51 L293.86,43.21 L293.93,42.90 L294.00,42.58 L294.07,42.25 L294.14,41.90 L294.22,41.54 L294.29,41.17 L294.36,40.79 L294.43,40.39 L294.50,39.98 L294.57,39.57 L294.65,39.14 L294.72,38.70 L294.79,38.24 L294.86,37.78 L294.93,37.31 L295.01,36.82 L295.08,36.32 L295.15,35.82 L295.22,35.30 L295.29,34.78 L295.37,34.25 L295.44,33.70 L295.51,33.15 L295.58,32.59 L295.65,32.03 L295.73,31.45 L295.80,30.87 L295.87,30.29 L295.94,29.70 L296.01,29.11 L296.08,28.51 L296.16,27.91 L296.23,27.31 L296.30,26.71 L296.37,26.11 L296.44,25.51 L296.52,24.91 L296.59,24.31 L296.66,23.72 L296.73,23.14 L296.80,22.56 L296.88,21.99 L296.95,21.42 L297.02,20.87 L297.09,20.33 L297.16,19.80 L297.23,19.29 L297.31,18.79 L297.38,18.30 L297.45,17.84 L297.52,17.39 L297.59,16.96 L297.67,16.55 L297.74,16.17 L297.81,15.80 L297.88,15.46 L297.95,15.15 L298.02,14.86 L298.10,14.59 L298.17,14.36 L298.24,14.15 L298.31,13.96 L298.38,13.81 L298.46,13.68 L298.53,13.58 L298.60,13.51 L298.67,13.47 L298.74,13.45 L298.82,13.46 L298.89,13.50 L298.96,13.57 L299.03,13.66 L299.10,13.78 L299.18,13.93 L299.25,14.09 L299.32,14.29 L299.39,14.50 L299.46,14.74 L299.53,15.00 L299.61,15.27 L299.68,15.57 L299.75,15.88 L299.82,16.22 L299.89,16.56 L299.97,16.92 L300.04,17.30 L300.11,17.69 L300.18,18.09 L300.25,18.49 L300.32,18.91 L300.40,19.34 L300.47,19.77 L300.54,20.21 L300.61,20.66 L300.68,21.11 L300.76,21.56 L300.83,22.01 L300.90,22.47 L300.97,22.93 L301.04,23.39 L301.12,23.84 L301.19,24.30 L301.26,24.76 L301.33,25.21 L301.40,25.66 L301.48,26.10 L301.55,26.54 L301.62,26.98 L301.69,27.41 L301.76,27.84 L301.83,28.26 L301.91,28.68 L301.98,29.09 L302.05,29.49 L302.12,29.88 L302.19,30.27 L302.27,30.65 L302.34,31.03 L302.41,31.39 L302.48,31.75 L302.55,32.10 L302.62,32.44 L302.70,32.77 L302.77,33.10 L302.84,33.42 L302.91,33.72 L302.98,34.02 L303.06,34.31 L303.13,34.60 L303.20,34.87 L303.27,35.14 L303.34,35.39 L303.42,35.64 L303.49,35.88 L303.56,36.11 L303.63,36.33 L303.70,36.55 L303.77,36.75 L303.85,36.95 L303.92,37.13 L303.99,37.31 L304.06,37.48 L304.13,37.64 L304.21,37.80 L304.28,37.94 L304.35,38.08 L304.42,38.21 L304.49,38.33 L304.57,38.44 L304.64,38.54 L304.71,38.64 L304.78,38.73 L304.85,38.80 L304.93,38.88 L305.00,38.94 L305.07,38.99 L305.14,39.04 L305.21,39.08 L305.28,39.11 L305.36,39.13 L305.43,39.15 L305.50,39.16 L305.57,39.16 L305.64,39.15 L305.72,39.13 L305.79,39.11 L305.86,39.08 L305.93,39.04 L306.00,38.99 L306.07,38.94 L306.15,38.88 L306.22,38.81 L306.29,38.73 L306.36,38.65 L306.43,38.56 L306.51,38.46 L306.58,38.35 L306.65,38.24 L306.72,38.12 L306.79,37.99 L306.87,37.85 L306.94,37.71 L307.01,37.56 L307.08,37.40 L307.15,37.23 L307.23,37.06 L307.30,36.88 L307.37,36.69 L307.44,36.50 L307.51,36.30 L307.58,36.09 L307.66,35.87 L307.73,35.65 L307.80,35.42 L307.87,35.18 L307.94,34.94 L308.02,34.69 L308.09,34.43 L308.16,34.17 L308.23,33.90 L308.30,33.62 L308.38,33.34 L308.45,33.05 L308.52,32.75 L308.59,32.45 L308.66,32.14 L308.73,31.83 L308.81,31.51 L308.88,31.18 L308.95,30.85 L309.02,30.52 L309.09,30.18 L309.17,29.83 L309.24,29.48 L309.31,29.12 L309.38,28.76 L309.45,28.40 L309.52,28.03 L309.60,27.66 L309.67,27.29 L309.74,26.91 L309.81,26.53 L309.88,26.15 L309.96,25.77 L310.03,25.38 L310.10,24.99 L310.17,24.60 L310.24,24.21 L310.32,23.83 L310.39,23.44 L310.46,23.05 L310.53,22.66 L310.60,22.27 L310.68,21.89 L310.75,21.51 L310.82,21.13 L310.89,20.76 L310.96,20.38 L311.03,20.02 L311.11,19.65 L311.18,19.30 L311.25,18.95 L311.32,18.60 L311.39,18.27 L311.47,17.94 L311.54,17.61 L311.61,17.30 L311.68,17.00 L311.75,16.70 L311.82,16.42 L311.90,16.14 L311.97,15.88 L312.04,15.63 L312.11,15.39 L312.18,15.16 L312.26,14.95 L312.33,14.74 L312.40,14.56 L312.47,14.38 L312.54,14.22 L312.62,14.08 L312.69,13.95 L312.76,13.83 L312.83,13.73 L312.90,13.64 L312.98,13.57 L313.05,13.52 L313.12,13.48 L313.19,13.46 L313.26,13.45 L313.33,13.46 L313.41,13.48 L313.48,13.52 L313.55,13.58 L313.62,13.65 L313.69,13.73 L313.77,13.83 L313.84,13.94 L313.91,14.07 L313.98,14.22 L314.05,14.37 L314.12,14.54 L314.20,14.72 L314.27,14.92 L314.34,15.12 L314.41,15.34 L314.48,15.57 L314.56,15.81 L314.63,16.06 L314.70,16.32 L314.77,16.59 L314.84,16.87 L314.92,17.16 L314.99,17.45 L315.06,17.76 L315.13,18.07 L315.20,18.38 L315.27,18.70 L315.35,19.03 L315.42,19.36 L315.49,19.70 L315.56,20.04 L315.63,20.38 L315.71,20.73 L315.78,21.07 L315.85,21.42 L315.92,21.78 L315.99,22.13 L316.07,22.48 L316.14,22.84 L316.21,23.19 L316.28,23.55 L316.35,23.90 L316.43,24.25 L316.50,24.60 L316.57,24.95 L316.64,25.30 L316.71,25.65 L316.78,25.99 L316.86,26.33 L316.93,26.67 L317.00,27.00 L317.07,27.33 L317.14,27.66 L317.22,27.98 L317.29,28.30 L317.36,28.61 L317.43,28.92 L317.50,29.22 L317.57,29.52 L317.65,29.82 L317.72,30.11 L317.79,30.39 L317.86,30.67 L317.93,30.95 L318.01,31.22 L318.08,31.48 L318.15,31.74 L318.22,31.99 L318.29,32.23 L318.37,32.47 L318.44,32.71 L318.51,32.94 L318.58,33.16 L318.65,33.37 L318.73,33.58 L318.80,33.78 L318.87,33.98 L318.94,34.17 L319.01,34.36 L319.08,34.53 L319.16,34.71 L319.23,34.87 L319.30,35.03 L319.37,35.18 L319.44,35.33 L319.52,35.47 L319.59,35.60 L319.66,35.73 L319.73,35.85 L319.80,35.96 L319.88,36.07 L319.95,36.17 L320.02,36.27 L320.09,36.36 L320.16,36.44 L320.23,36.51 L320.31,36.58 L320.38,36.64 L320.45,36.70 L320.52,36.75 L320.59,36.79 L320.67,36.83 L320.74,36.86 L320.81,36.88 L320.88,36.90 L320.95,36.91 L321.02,36.91 L321.10,36.91 L321.17,36.90 L321.24,36.89 L321.31,36.87 L321.38,36.84 L321.46,36.80 L321.53,36.76 L321.60,36.72 L321.67,36.66 L321.74,36.60 L321.82,36.53 L321.89,36.46 L321.96,36.38 L322.03,36.29 L322.10,36.20 L322.18,36.10 L322.25,36.00 L322.32,35.88 L322.39,35.77 L322.46,35.64 L322.53,35.51 L322.61,35.37 L322.68,35.23 L322.75,35.08 L322.82,34.92 L322.89,34.76 L322.97,34.59 L323.04,34.41 L323.11,34.23 L323.18,34.04 L323.25,33.84 L323.32,33.64 L323.40,33.43 L323.47,33.22 L323.54,33.00 L323.61,32.77 L323.68,32.54 L323.76,32.30 L323.83,32.06 L323.90,31.81 L323.97,31.55 L324.04,31.29 L324.12,31.02 L324.19,30.75 L324.26,30.47 L324.33,30.19 L324.40,29.90 L324.48,29.61 L324.55,29.31 L324.62,29.00 L324.69,28.69 L324.76,28.38 L324.83,28.06 L324.91,27.74 L324.98,27.42 L325.05,27.09 L325.12,26.75 L325.19,26.42 L325.27,26.08 L325.34,25.73 L325.41,25.39 L325.48,25.04 L325.55,24.69 L325.62,24.34 L325.70,23.99 L325.77,23.63 L325.84,23.28 L325.91,22.92 L325.98,22.57 L326.06,22.21 L326.13,21.86 L326.20,21.50 L326.27,21.15 L326.34,20.80 L326.42,20.46 L326.49,20.11 L326.56,19.77 L326.63,19.43 L326.70,19.10 L326.77,18.77 L326.85,18.45 L326.92,18.13 L326.99,17.82 L327.06,17.52 L327.13,17.22 L327.21,16.93 L327.28,16.65 L327.35,16.38 L327.42,16.11 L327.49,15.86 L327.57,15.62 L327.64,15.38 L327.71,15.16 L327.78,14.95 L327.85,14.76 L327.93,14.57 L328.00,14.40 L328.07,14.24 L328.14,14.10 L328.21,13.96 L328.28,13.85 L328.36,13.75 L328.43,13.66 L328.50,13.59 L328.57,13.53 L328.64,13.49 L328.72,13.46 L328.79,13.45 L328.86,13.46 L328.93,13.48 L329.00,13.51 L329.07,13.57 L329.15,13.63 L329.22,13.72 L329.29,13.82 L329.36,13.93 L329.43,14.06 L329.51,14.21 L329.58,14.36 L329.65,14.54 L329.72,14.73 L329.79,14.93 L329.87,15.14 L329.94,15.37 L330.01,15.61 L330.08,15.86 L330.15,16.12 L330.23,16.40 L330.30,16.68 L330.37,16.98 L330.44,17.28 L330.51,17.60 L330.58,17.92 L330.66,18.25 L330.73,18.59 L330.80,18.93 L330.87,19.28 L330.94,19.64 L331.02,20.00 L331.09,20.37 L331.16,20.75 L331.23,21.12 L331.30,21.50 L331.38,21.88 L331.45,22.27 L331.52,22.66 L331.59,23.05 L331.66,23.44 L331.73,23.83 L331.81,24.22 L331.88,24.61 L331.95,25.00 L332.02,25.39 L332.09,25.77 L332.17,26.16 L332.24,26.54 L332.31,26.92 L332.38,27.30 L332.45,27.68 L332.52,28.05 L332.60,28.42 L332.67,28.78 L332.74,29.14 L332.81,29.50 L332.88,29.85 L332.96,30.20 L333.03,30.54 L333.10,30.87 L333.17,31.21 L333.24,31.53 L333.32,31.85 L333.39,32.17 L333.46,32.47 L333.53,32.78 L333.60,33.07 L333.68,33.36 L333.75,33.65 L333.82,33.92 L333.89,34.19 L333.96,34.46 L334.03,34.71 L334.11,34.96 L334.18,35.21 L334.25,35.44 L334.32,35.67 L334.39,35.89 L334.47,36.11 L334.54,36.32 L334.61,36.52 L334.68,36.71 L334.75,36.89 L334.82,37.07 L334.90,37.24 L334.97,37.41 L335.04,37.57 L335.11,37.71 L335.18,37.86 L335.26,37.99 L335.33,38.12 L335.40,38.24 L335.47,38.35 L335.54,38.45 L335.62,38.55 L335.69,38.64 L335.76,38.72 L335.83,38.79 L335.90,38.86 L335.98,38.92 L336.05,38.97 L336.12,39.01 L336.19,39.05 L336.26,39.07 L336.33,39.09 L336.41,39.10 L336.48,39.11 L336.55,39.10 L336.62,39.09 L336.69,39.07 L336.77,39.04 L336.84,39.01 L336.91,38.96 L336.98,38.91 L337.05,38.85 L337.12,38.78 L337.20,38.71 L337.27,38.62 L337.34,38.53 L337.41,38.43 L337.48,38.32 L337.56,38.20 L337.63,38.07 L337.70,37.94 L337.77,37.79 L337.84,37.64 L337.92,37.48 L337.99,37.31 L338.06,37.13 L338.13,36.95 L338.20,36.75 L338.27,36.55 L338.35,36.34 L338.42,36.11 L338.49,35.88 L338.56,35.64 L338.63,35.40 L338.71,35.14 L338.78,34.87 L338.85,34.60 L338.92,34.32 L338.99,34.02 L339.07,33.72 L339.14,33.41 L339.21,33.09 L339.28,32.77 L339.35,32.43 L339.43,32.09 L339.50,31.74 L339.57,31.38 L339.64,31.01 L339.71,30.63 L339.78,30.25 L339.86,29.86 L339.93,29.46 L340.00,29.05 L340.07,28.64 L340.14,28.22 L340.22,27.79 L340.29,27.36 L340.36,26.93 L340.43,26.49 L340.50,26.04 L340.57,25.59 L340.65,25.14 L340.72,24.68 L340.79,24.22 L340.86,23.76 L340.93,23.30 L341.01,22.84 L341.08,22.37 L341.15,21.91 L341.22,21.45 L341.29,21.00 L341.37,20.55 L341.44,20.10 L341.51,19.66 L341.58,19.22 L341.65,18.79 L341.73,18.37 L341.80,17.96 L341.87,17.56 L341.94,17.17 L342.01,16.80 L342.08,16.44 L342.16,16.10 L342.23,15.77 L342.30,15.46 L342.37,15.16 L342.44,14.89 L342.52,14.64 L342.59,14.41 L342.66,14.20 L342.73,14.02 L342.80,13.86 L342.88,13.72 L342.95,13.61 L343.02,13.53 L343.09,13.48 L343.16,13.45 L343.23,13.45 L343.31,13.49 L343.38,13.54 L343.45,13.63 L343.52,13.75 L343.59,13.89 L343.67,14.07 L343.74,14.27 L343.81,14.50 L343.88,14.76 L343.95,15.04 L344.02,15.35 L344.10,15.69 L344.17,16.05 L344.24,16.43 L344.31,16.84 L344.38,17.27 L344.46,17.71 L344.53,18.18 L344.60,18.67 L344.67,19.17 L344.74,19.69 L344.82,20.22 L344.89,20.77 L344.96,21.32 L345.03,21.89 L345.10,22.47 L345.18,23.06 L345.25,23.65 L345.32,24.25 L345.39,24.85 L345.46,25.45 L345.53,26.06 L345.61,26.67 L345.68,27.28 L345.75,27.89 L345.82,28.50 L345.89,29.10 L345.97,29.70 L346.04,30.30 L346.11,30.89 L346.18,31.48 L346.25,32.06 L346.32,32.63 L346.40,33.20 L346.47,33.75 L346.54,34.30 L346.61,34.84 L346.68,35.37 L346.76,35.89 L346.83,36.40 L346.90,36.90 L346.97,37.39 L347.04,37.87 L347.12,38.34 L347.19,38.79 L347.26,39.24 L347.33,39.67 L347.40,40.09 L347.48,40.49 L347.55,40.89 L347.62,41.27 L347.69,41.64 L347.76,42.00 L347.83,42.35 L347.91,42.68 L347.98,43.00 L348.05,43.31 L348.12,43.60 L348.19,43.89 L348.27,44.16 L348.34,44.41 L348.41,44.66 L348.48,44.89 L348.55,45.11 L348.62,45.31 L348.70,45.51 L348.77,45.69 L348.84,45.85 L348.91,46.01 L348.98,46.15 L349.06,46.27 L349.13,46.39 L349.20,46.49 L349.27,46.58 L349.34,46.65 L349.42,46.71 L349.49,46.76 L349.56,46.80 L349.63,46.82 L349.70,46.82 L349.77,46.81 L349.85,46.79 L349.92,46.75 L349.99,46.70 L350.06,46.64 L350.13,46.56 L350.21,46.46 L350.28,46.35 L350.35,46.22 L350.42,46.07 L350.49,45.91 L350.57,45.74 L350.64,45.54 L350.71,45.33 L350.78,45.10 L350.85,44.86 L350.93,44.59 L351.00,44.31 L351.07,44.00 L351.14,43.68 L351.21,43.34 L351.28,42.98 L351.36,42.59 L351.43,42.19 L351.50,41.76 L351.57,41.31 L351.64,40.84 L351.72,40.35 L351.79,39.83 L351.86,39.29 L351.93,38.72 L352.00,38.14 L352.07,37.52 L352.15,36.89 L352.22,36.22 L352.29,35.54 L352.36,34.83 L352.43,34.09 L352.51,33.33 L352.58,32.55 L352.65,31.75 L352.72,30.92 L352.79,30.08 L352.87,29.21 L352.94,28.33 L353.01,27.44 L353.08,26.53 L353.15,25.62 L353.23,24.70 L353.30,23.78 L353.37,22.86 L353.44,21.94 L353.51,21.04 L353.58,20.16 L353.66,19.30 L353.73,18.47 L353.80,17.68 L353.87,16.94 L353.94,16.24 L354.02,15.61 L354.09,15.04 L354.16,14.55 L354.23,14.14 L354.30,13.82 L354.38,13.60 L354.45,13.47 L354.52,13.46 L354.59,13.55 L354.66,13.75 L354.73,14.06 L354.81,14.49 L354.88,15.03 L354.95,15.68 L355.02,16.43 L355.09,17.28 L355.17,18.22 L355.24,19.25 L355.31,20.36 L355.38,21.53 L355.45,22.77 L355.52,24.06 L355.60,25.39 L355.67,26.75 L355.74,28.14 L355.81,29.55 L355.88,30.96 L355.96,32.37 L356.03,33.78 L356.10,35.17 L356.17,36.55 L356.24,37.90 L356.32,39.23 L356.39,40.53 L356.46,41.80 L356.53,43.03 L356.60,44.22 L356.68,45.37 L356.75,46.49 L356.82,47.56 L356.89,48.59 L356.96,49.58 L357.03,50.53 L357.11,51.44 L357.18,52.30 L357.25,53.13 L357.32,53.92 L357.39,54.67 L357.47,55.38 L357.54,56.05 L357.61,56.69 L357.68,57.29 L357.75,57.85 L357.82,58.38 L357.90,58.88 L357.97,59.35 L358.04,59.78 L358.11,60.18 L358.18,60.55 L358.26,60.89 L358.33,61.20 L358.40,61.48 L358.47,61.73 L358.54,61.95 L358.62,62.13 L358.69,62.29 L358.76,62.42 L358.83,62.51 L358.90,62.58 L358.98,62.61 L359.05,62.61 L359.12,62.57 L359.19,62.49 L359.26,62.38 L359.33,62.22 L359.41,62.02 L359.48,61.78 L359.55,61.48 L359.62,61.13 L359.69,60.73 L359.77,60.26 L359.84,59.71 L359.91,59.09 L359.98,58.39 L360.05,57.59 L360.12,56.68 L360.20,55.66 L360.27,54.50 L360.34,53.19 L360.41,51.71 L360.48,50.05 L360.56,48.17 L360.63,46.06 L360.70,43.69 L360.77,41.04 L360.84,38.11 L360.92,34.88 L360.99,31.39 L361.06,27.71 L361.13,23.96 L361.20,20.34 L361.27,17.14 L361.35,14.74 L361.42,13.53 L361.49,13.85 L361.56,15.89 L361.63,19.56 L361.71,24.56 L361.78,30.40 L361.85,36.57 L361.92,42.64 L361.99,48.31 L362.07,53.41 L362.14,57.89 L362.21,61.74 L362.28,65.03 L362.35,67.81 L362.43,70.15 L362.50,72.13 L362.57,73.80 L362.64,75.21 L362.71,76.40 L362.78,77.41 L362.86,78.28 L362.93,79.01 L363.00,79.65 L363.07,80.19 L363.14,80.66 L363.22,81.07 L363.29,81.43 L363.36,81.73 L363.43,82.01 L363.50,82.24 L363.57,82.45 L363.65,82.64 L363.72,82.80 L363.79,82.94 L363.86,83.07 L363.93,83.19 L364.01,83.29 L364.08,83.38 L364.15,83.46 L364.22,83.54 L364.29,83.60 L364.37,83.66 L364.44,83.72 L364.51,83.76 L364.58,83.81 L364.65,83.85 L364.73,83.88 L364.80,83.92 L364.87,83.95 L364.94,83.97 L365.01,84.00 L365.08,84.02 L365.16,84.04 L365.23,84.06 L365.30,84.08 L365.37,84.10 L365.44,84.11 L365.52,84.12 L365.59,84.14 L365.66,84.15 L365.73,84.16 L365.80,84.17 L365.88,84.18 L365.95,84.19 L366.02,84.19 L366.09,84.20 L366.16,84.21 L366.23,84.21 L366.31,84.22 L366.38,84.22 L366.45,84.23 L366.52,84.23 L366.59,84.24 L366.67,84.24 L366.74,84.25 L366.81,84.25 L366.88,84.25 L366.95,84.26 L367.02,84.26 L367.10,84.26 L367.17,84.26 L367.24,84.27 L367.31,84.27 L367.38,84.27 L367.46,84.27 L367.53,84.27 L367.60,84.27 L367.67,84.28 L367.74,84.28 L367.82,84.28 L367.89,84.28 L367.96,84.28 L368.03,84.28 L368.10,84.28 L368.18,84.28 L368.25,84.29 L368.32,84.29 L368.39,84.29 L368.46,84.29 L368.53,84.29 L368.61,84.29 L368.68,84.29 L368.75,84.29 L368.82,84.29 L368.89,84.29 L368.97,84.29 L369.04,84.29 L369.11,84.29 L369.18,84.29 L369.25,84.29 L369.32,84.29 L369.40,84.29 L369.47,84.29 L369.54,84.29 L369.61,84.30 L369.68,84.30 L369.76,84.30 L369.83,84.30 L369.90,84.30 L369.97,84.30 L370.04,84.30 L370.12,84.30 L370.19,84.30 L370.26,84.30 L370.33,84.30 L370.40,84.30 L370.48,84.30 L370.55,84.30 L370.62,84.30 L370.69,84.30 L370.76,84.30 L370.83,84.30 L370.91,84.30 L370.98,84.30 L371.05,84.30 L371.12,84.30 L371.19,84.30 L371.27,84.30 L371.34,84.30 L371.41,84.30 L371.48,84.30 L371.55,84.30 L371.62,84.30 L371.70,84.30 L371.77,84.30 L371.84,84.30 L371.91,84.30 L371.98,84.30 L372.06,84.30 L372.13,84.30 L372.20,84.30 L372.27,84.30 L372.34,84.30 L372.42,84.30 L372.49,84.30 L372.56,84.30 L372.63,84.30 L372.70,84.30 L372.77,84.30 L372.85,84.30 L372.92,84.30 L372.99,84.30 L373.06,84.30 L373.13,84.30 L373.21,84.30 L373.28,84.30 L373.35,84.30 L373.42,84.30 L373.49,84.30 L373.57,84.30 L373.64,84.30 L373.71,84.30 L373.78,84.30 L373.85,84.30 L373.93,84.30 L374.00,84.30 L374.07,84.30 L374.14,84.30 L374.21,84.30 L374.28,84.30 L374.36,84.30 L374.43,84.30 L374.50,84.30" fill="none" stroke="#B22222" stroke-width="1.65" stroke-linejoin="round" stroke-linecap="butt" clip-path="url(#cpb1)"/>
<path d="M359.82,84.55 h2.6 M352.33,84.55 h2.6 M340.86,84.55 h2.6 M326.78,84.55 h2.6 M311.81,84.55 h2.6 M297.73,84.55 h2.6 M286.26,84.55 h2.6 M278.77,84.55 h2.6" stroke="#5a5060" stroke-width="0.5" fill="none"/>
<text x="259.50" y="98.35" text-anchor="middle">−8</text>
<text x="288.25" y="98.35" text-anchor="middle">−4</text>
<text x="317.00" y="98.35" text-anchor="middle">0</text>
<text x="345.75" y="98.35" text-anchor="middle">4</text>
<text x="374.50" y="98.35" text-anchor="middle">8</text>
<text x="254.0" y="87.90" text-anchor="end">0</text>
<text x="254.0" y="17.05" text-anchor="end">1</text>
<text x="254.5" y="35.15" text-anchor="end" font-size="13" textLength="16.6" lengthAdjust="spacingAndGlyphs">(b)</text>
<path d="M288.70,109.10 H297.70 M295.10,106.50 L297.70,109.10 L295.10,111.70" fill="none" stroke="#222" stroke-width="1.0" stroke-linecap="round" stroke-linejoin="round"/>
<text x="303.3" y="113.2" font-size="14.4" textLength="43.6" lengthAdjust="spacingAndGlyphs">Energy</text>
<g transform="translate(229.7,48.875) rotate(-90)"><path d="M-16.50,-3.70 H-7.50 M-10.10,-6.30 L-7.50,-3.70 L-10.10,-1.10" fill="none" stroke="#222" stroke-width="1.0" stroke-linecap="round" stroke-linejoin="round"/><text x="-2.5999999999999996" y="0">g</text><g transform="translate(0,-0.20000000000000018) scale(1,-1)"><path d="M7.80,3.30 V-3.50 M6.20,-1.30 L7.80,-3.50 L9.40,-1.30" fill="none" stroke="#222" stroke-width="0.7" stroke-linecap="round" stroke-linejoin="round"/></g><g transform="translate(0,-0.20000000000000018) scale(1,-1)"><path d="M12.90,3.30 V-3.50 M11.30,-1.30 L12.90,-3.50 L14.50,-1.30" fill="none" stroke="#222" stroke-width="0.7" stroke-linecap="round" stroke-linejoin="round"/></g></g>
<path d="M60.5,207.4 V136.45 M174.5,136.45 V207.4" fill="none" stroke="#000" stroke-width="0.46" stroke-linecap="square"/>
<path d="M60.5,136.45 H174.5 M60.5,207.4 H174.5" fill="none" stroke="#000" stroke-width="0.6" stroke-linecap="square"/>
<path d="M89.00,207.4 v-2.5 M89.00,136.45 v2.5 M117.50,207.4 v-2.5 M117.50,136.45 v2.5 M146.00,207.4 v-2.5 M146.00,136.45 v2.5 M60.5,189.66 h2.5 M174.5,189.66 h-2.5 M60.5,171.93 h2.5 M174.5,171.93 h-2.5 M60.5,154.19 h2.5 M174.5,154.19 h-2.5" stroke="#000" stroke-width="0.46" fill="none"/>
<clipPath id="cpc0"><rect x="59.3" y="136.80" width="116.4" height="70.90"/></clipPath>
<path d="M60.50,172.33 L174.50,172.33" fill="none" stroke="#DA70D6" stroke-width="1.65" stroke-linejoin="round" stroke-linecap="square" clip-path="url(#cpc0)"/>
<text x="60.50" y="221.45000000000002" text-anchor="middle">−8</text>
<text x="89.00" y="221.45000000000002" text-anchor="middle">−4</text>
<text x="117.50" y="221.45000000000002" text-anchor="middle">0</text>
<text x="146.00" y="221.45000000000002" text-anchor="middle">4</text>
<text x="174.50" y="221.45000000000002" text-anchor="middle">8</text>
<text x="55.0" y="211.00" text-anchor="end">−1</text>
<text x="55.0" y="140.05" text-anchor="end">1</text>
<text x="55.5" y="158.14999999999998" text-anchor="end" font-size="13" textLength="16.6" lengthAdjust="spacingAndGlyphs">(c)</text>
<path d="M89.20,233.10 H98.20 M95.60,230.50 L98.20,233.10 L95.60,235.70" fill="none" stroke="#222" stroke-width="1.0" stroke-linecap="round" stroke-linejoin="round"/>
<text x="103.8" y="237.20000000000002" font-size="14.4" textLength="43.6" lengthAdjust="spacingAndGlyphs">Energy</text>
<g transform="translate(30.7,171.925) rotate(-90)"><path d="M-16.50,-3.70 H-7.50 M-10.10,-6.30 L-7.50,-3.70 L-10.10,-1.10" fill="none" stroke="#222" stroke-width="1.0" stroke-linecap="round" stroke-linejoin="round"/><text x="-2.5999999999999996" y="0">g</text><path d="M7.80,3.30 V-3.50 M6.20,-1.30 L7.80,-3.50 L9.40,-1.30" fill="none" stroke="#222" stroke-width="0.7" stroke-linecap="round" stroke-linejoin="round"/><g transform="translate(0,-0.20000000000000018) scale(1,-1)"><path d="M12.90,3.30 V-3.50 M11.30,-1.30 L12.90,-3.50 L14.50,-1.30" fill="none" stroke="#222" stroke-width="0.7" stroke-linecap="round" stroke-linejoin="round"/></g></g>
<path d="M259.5,207.4 V136.45 M374.5,136.45 V207.4" fill="none" stroke="#000" stroke-width="0.46" stroke-linecap="square"/>
<path d="M259.5,136.45 H374.5 M259.5,207.4 H374.5" fill="none" stroke="#000" stroke-width="0.6" stroke-linecap="square"/>
<path d="M288.25,207.4 v-2.5 M288.25,136.45 v2.5 M317.00,207.4 v-2.5 M317.00,136.45 v2.5 M345.75,207.4 v-2.5 M345.75,136.45 v2.5 M259.5,189.66 h2.5 M374.5,189.66 h-2.5 M259.5,171.93 h2.5 M374.5,171.93 h-2.5 M259.5,154.19 h2.5 M374.5,154.19 h-2.5" stroke="#000" stroke-width="0.46" fill="none"/>
<clipPath id="cpd0"><rect x="258.3" y="136.80" width="117.4" height="70.90"/></clipPath>
<path d="M259.50,172.33 L374.50,172.33" fill="none" stroke="#B22222" stroke-width="1.65" stroke-linejoin="round" stroke-linecap="square" clip-path="url(#cpd0)"/>
<text x="259.50" y="221.45000000000002" text-anchor="middle">−8</text>
<text x="288.25" y="221.45000000000002" text-anchor="middle">−4</text>
<text x="317.00" y="221.45000000000002" text-anchor="middle">0</text>
<text x="345.75" y="221.45000000000002" text-anchor="middle">4</text>
<text x="374.50" y="221.45000000000002" text-anchor="middle">8</text>
<text x="254.0" y="211.00" text-anchor="end">−1</text>
<text x="254.0" y="140.05" text-anchor="end">1</text>
<text x="254.5" y="158.14999999999998" text-anchor="end" font-size="13" textLength="16.6" lengthAdjust="spacingAndGlyphs">(d)</text>
<path d="M288.70,233.10 H297.70 M295.10,230.50 L297.70,233.10 L295.10,235.70" fill="none" stroke="#222" stroke-width="1.0" stroke-linecap="round" stroke-linejoin="round"/>
<text x="303.3" y="237.20000000000002" font-size="14.4" textLength="43.6" lengthAdjust="spacingAndGlyphs">Energy</text>
<g transform="translate(229.7,171.925) rotate(-90)"><path d="M-16.50,-3.70 H-7.50 M-10.10,-6.30 L-7.50,-3.70 L-10.10,-1.10" fill="none" stroke="#222" stroke-width="1.0" stroke-linecap="round" stroke-linejoin="round"/><text x="-2.5999999999999996" y="0">g</text><g transform="translate(0,-0.20000000000000018) scale(1,-1)"><path d="M7.80,3.30 V-3.50 M6.20,-1.30 L7.80,-3.50 L9.40,-1.30" fill="none" stroke="#222" stroke-width="0.7" stroke-linecap="round" stroke-linejoin="round"/></g><path d="M12.90,3.30 V-3.50 M11.30,-1.30 L12.90,-3.50 L14.50,-1.30" fill="none" stroke="#222" stroke-width="0.7" stroke-linecap="round" stroke-linejoin="round"/></g>
</g>
</svg>
</body></html>
